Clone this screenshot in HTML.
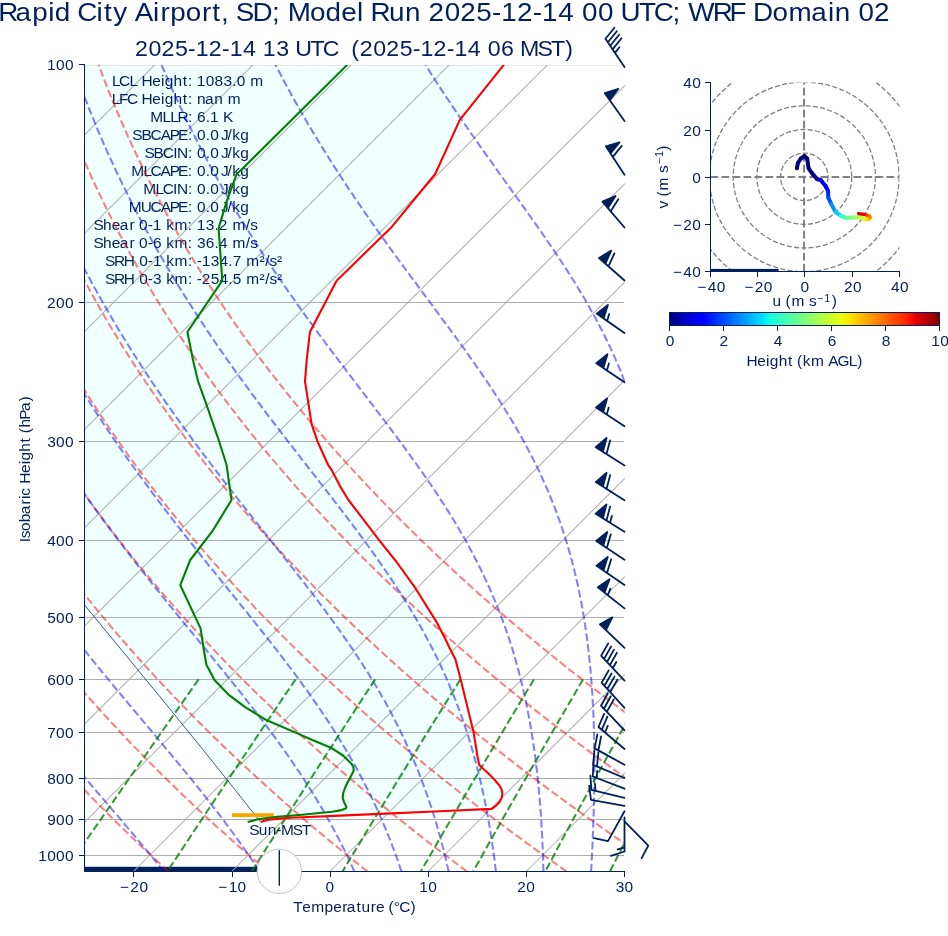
<!DOCTYPE html>
<html><head><meta charset="utf-8"><title>Skew-T Rapid City Airport</title>
<style>html,body{margin:0;padding:0;background:#fff}body{width:948px;height:936px;overflow:hidden}svg{display:block;will-change:transform}text{font-family:"Liberation Sans",sans-serif;fill:#00205b;white-space:pre}</style></head><body>
<svg width="948" height="936" viewBox="0 0 948 936">
<rect width="948" height="936" fill="#fff"/>
<defs><clipPath id="ax"><rect x="84.5" y="64.9" width="540.2" height="807"/></clipPath>
<clipPath id="hx"><rect x="710.5" y="82.5" width="189" height="189"/></clipPath>
<linearGradient id="jet" x1="0" x2="1" y1="0" y2="0">
<stop offset="0%" stop-color="rgb(0,0,128)"/>
<stop offset="11%" stop-color="rgb(0,0,255)"/>
<stop offset="12.5%" stop-color="rgb(0,0,255)"/>
<stop offset="34%" stop-color="rgb(0,219,255)"/>
<stop offset="35%" stop-color="rgb(2,232,244)"/>
<stop offset="37.5%" stop-color="rgb(22,255,225)"/>
<stop offset="50%" stop-color="rgb(125,255,122)"/>
<stop offset="64%" stop-color="rgb(238,255,9)"/>
<stop offset="65%" stop-color="rgb(246,245,0)"/>
<stop offset="66%" stop-color="rgb(255,234,0)"/>
<stop offset="89%" stop-color="rgb(255,22,0)"/>
<stop offset="91%" stop-color="rgb(232,0,0)"/>
<stop offset="100%" stop-color="rgb(128,0,0)"/>
</linearGradient></defs>
<g clip-path="url(#ax)">
<polygon points="260.7,822.1 264.5,820.8 269,819.8 280,818.6 291,817.7 340,815.6 379.8,813.9 440,811.3 491.7,808.9 496,805.6 499.2,802.4 501.6,798 502.4,793.8 501.6,789.5 499.2,785.3 494.5,779.8 489.6,774.6 484,769.5 479.3,765 477.6,757 473.5,731.9 460.7,679.5 455.4,659.2 449.6,648 445.8,640 436.8,622.4 415.4,588.2 396.2,561.5 379.1,540.1 348.1,499.5 340,486.1 332,470.7 328,464.7 317.4,441.2 311.6,424.1 305,381.4 306.7,360 309.9,332 336.6,280.7 391.7,226.9 435.2,174 459.8,119.9 504,64.6 54.4,62.4 60,575 84.5,604.9 160,696.8 211.3,760" fill="#f0ffff"/>
<rect x="84.4" y="866.8" width="194.9" height="6" fill="#00205b"/>
<g stroke="#adadad" stroke-width="1" fill="none" shape-rendering="crispEdges">
<path d="M84.4 302.5H624.3"/>
<path d="M84.4 441.5H624.3"/>
<path d="M84.4 540.5H624.3"/>
<path d="M84.4 617.5H624.3"/>
<path d="M84.4 679.5H624.3"/>
<path d="M84.4 732.5H624.3"/>
<path d="M84.4 778.5H624.3"/>
<path d="M84.4 819.5H624.3"/>
<path d="M84.4 855.5H624.3"/>
</g>
<path d="M84.4 65.4H624.3" stroke="#b0b0b0" stroke-opacity="0.3" stroke-width="1" fill="none"/>
<g stroke="#b0b0b0" stroke-width="1.05" fill="none">
<path d="M-1044.6 871.5L-237.5 64.4"/>
<path d="M-946.4 871.5L-139.3 64.4"/>
<path d="M-848.2 871.5L-41.2 64.4"/>
<path d="M-750.1 871.5L57 64.4"/>
<path d="M-651.9 871.5L155.2 64.4"/>
<path d="M-553.7 871.5L253.4 64.4"/>
<path d="M-455.5 871.5L351.5 64.4"/>
<path d="M-357.4 871.5L449.7 64.4"/>
<path d="M-259.2 871.5L547.9 64.4"/>
<path d="M-161 871.5L646 64.4"/>
<path d="M-62.9 871.5L744.2 64.4"/>
<path d="M35.3 871.5L842.4 64.4"/>
<path d="M133.5 871.5L940.6 64.4"/>
<path d="M231.7 871.5L1038.7 64.4"/>
<path d="M329.8 871.5L1136.9 64.4"/>
<path d="M428 871.5L1235.1 64.4"/>
<path d="M526.2 871.5L1333.2 64.4"/>
<path d="M624.3 871.5L1431.4 64.4"/>
</g>
<text transform="translate(112.2 85.7) scale(1.05 1)" x="-0.16 6.59 16.45 24.03 27.83 38.13 46.47 49.97 58.44 67.23 72.09" y="0" font-size="14.72">LCL Height:</text>
<text transform="translate(196.8 85.7) scale(1.05 1)" x="0.03 8.53 16.94 25.38 33.71 37.98 46.34 50.83" y="0" font-size="14.72">1083.0 m</text>
<text transform="translate(112 103.7) scale(1.05 1)" x="-0.16 6.63 14.2 24.27 28.07 38.37 46.71 50.21 58.68 67.47 72.33" y="0" font-size="14.72">LFC Height:</text>
<text transform="translate(196.8 103.7) scale(1.05 1)" x="0.13 7.83 16.61 24.93 29.42" y="0" font-size="14.72">nan m</text>
<text transform="translate(150.6 121.7) scale(1.05 1)" x="-0.42 11.26 18.63 25.63 35.53" y="0" font-size="14.72">MLLR:</text>
<text transform="translate(196.8 121.7) scale(1.05 1)" x="0.11 8.47 12.65 21.09 24.93" y="0" font-size="14.72">6.1 K</text>
<text transform="translate(133 139.7) scale(1.05 1)" x="-0.64 7.99 16.69 26.32 35.04 42.94 52.28" y="0" font-size="14.72">SBCAPE:</text>
<text transform="translate(196.8 139.7) scale(1.05 1)" x="0.11 8.47 12.73 21.09 22.95 29.32 33.82 41.29" y="0" font-size="14.72">0.0 J/kg</text>
<text transform="translate(145.2 157.7) scale(1.05 1)" x="-0.64 7.99 16.69 26.61 30.24 40.69" y="0" font-size="14.72">SBCIN:</text>
<text transform="translate(196.8 157.7) scale(1.05 1)" x="0.11 8.47 12.73 21.09 22.95 29.32 33.82 41.29" y="0" font-size="14.72">0.0 J/kg</text>
<text transform="translate(131.6 175.7) scale(1.05 1)" x="-0.42 11.26 18 27.63 36.35 44.25 53.59" y="0" font-size="14.72">MLCAPE:</text>
<text transform="translate(196.8 175.7) scale(1.05 1)" x="0.11 8.47 12.73 21.09 22.95 29.32 33.82 41.29" y="0" font-size="14.72">0.0 J/kg</text>
<text transform="translate(143.8 193.7) scale(1.05 1)" x="-0.42 11.26 18 27.92 31.55 42" y="0" font-size="14.72">MLCIN:</text>
<text transform="translate(196.8 193.7) scale(1.05 1)" x="0.11 8.47 12.73 21.09 22.95 29.32 33.82 41.29" y="0" font-size="14.72">0.0 J/kg</text>
<text transform="translate(129.2 211.7) scale(1.05 1)" x="-0.42 10.94 20.32 29.94 38.66 46.56 55.9" y="0" font-size="14.72">MUCAPE:</text>
<text transform="translate(196.8 211.7) scale(1.05 1)" x="0.11 8.47 12.73 21.09 22.95 29.32 33.82 41.29" y="0" font-size="14.72">0.0 J/kg</text>
<text transform="translate(94.2 229.7) scale(1.05 1)" x="-0.64 8.5 16.78 24.36 33.53 38.52 42.78 51.02 55.88 64.33 68.7 76.48 89.21" y="0" font-size="14.72">Shear 0-1 km:</text>
<text transform="translate(196.8 229.7) scale(1.05 1)" x="0.03 8.55 16.88 20.97 29.51 34 46.72 50.86" y="0" font-size="14.72">13.2 m/s</text>
<text transform="translate(94.2 247.7) scale(1.05 1)" x="-0.64 8.5 16.78 24.36 33.53 38.52 42.78 51.02 55.96 64.33 68.7 76.48 89.21" y="0" font-size="14.72">Shear 0-6 km:</text>
<text transform="translate(196.8 247.7) scale(1.05 1)" x="0.13 8.52 16.88 21.15 29.51 34 46.72 50.86" y="0" font-size="14.72">36.4 m/s</text>
<text transform="translate(105.7 265.7) scale(1.05 1)" x="-0.64 7.87 17.24 27.59 31.85 40.09 44.96 53.4 57.77 65.55 78.28" y="0" font-size="14.72">SRH 0-1 km:</text>
<text transform="translate(196.8 265.7) scale(1.05 1)" x="-0.06 4.8 13.32 21.72 30.07 34.31 42.7 47.19 59.81 65.22 69.35 76.46" y="0" font-size="14.72">-134.7 m²/s²</text>
<text transform="translate(105.7 283.7) scale(1.05 1)" x="-0.64 7.87 17.24 27.59 31.85 40.09 45.06 53.4 57.77 65.55 78.28" y="0" font-size="14.72">SRH 0-3 km:</text>
<text transform="translate(196.8 283.7) scale(1.05 1)" x="-0.06 4.71 13.25 21.72 30.07 34.29 42.7 47.19 59.81 65.22 69.35 76.46" y="0" font-size="14.72">-254.5 m²/s²</text>
<g stroke="#ff0000" stroke-opacity="0.5" stroke-width="2.05" stroke-dasharray="7.7 3.3" fill="none">
<path d="M168.4 871.5L161 864.7L153.8 858L146.6 851.3L139.5 844.6L132.4 837.8L125.5 831.1L118.6 824.4L111.8 817.7L105.1 810.9L98.4 804.2L91.8 797.5L85.3 790.8L78.9 784L72.6 777.3L66.3 770.6L60.1 763.9L53.9 757.1L47.9 750.4L41.9 743.7L35.9 737L30.1 730.2L24.3 723.5L18.6 716.8L12.9 710.1L7.4 703.3L1.9 696.6L-3.6 689.9L-8.9 683.2L-14.2 676.4L-19.5 669.7L-24.7 663L-29.8 656.3L-34.8 649.5L-39.8 642.8L-44.7 636.1L-49.5 629.3L-54.3 622.6L-59 615.9L-63.6 609.2L-68.2 602.4L-72.7 595.7L-77.2 589L-81.6 582.3L-85.9 575.5L-90.2 568.8L-94.4 562.1L-98.6 555.4L-102.7 548.6L-106.7 541.9L-110.6 535.2L-114.6 528.5L-118.4 521.7L-122.2 515L-125.9 508.3L-129.6 501.6L-133.2 494.8L-136.8 488.1L-140.3 481.4L-143.7 474.7L-147.1 467.9L-150.4 461.2L-153.7 454.5L-156.9 447.8L-160.1 441L-163.2 434.3L-166.2 427.6L-169.2 420.9L-172.2 414.1L-175.1 407.4L-177.9 400.7L-180.7 394L-183.4 387.2L-186.1 380.5L-188.7 373.8L-191.3 367.1L-193.8 360.3L-196.3 353.6L-198.7 346.9L-201.1 340.1L-203.4 333.4L-205.6 326.7L-207.9 320L-210 313.2L-212.1 306.5L-214.2 299.8L-216.2 293.1L-218.2 286.3L-220.1 279.6L-222 272.9L-223.8 266.2L-225.6 259.4L-227.3 252.7L-229 246L-230.6 239.3L-232.2 232.5L-233.7 225.8L-235.2 219.1L-236.7 212.4L-238.1 205.6L-239.4 198.9L-240.8 192.2L-242 185.5L-243.2 178.7L-244.4 172L-245.6 165.3L-246.6 158.6L-247.7 151.8L-248.7 145.1L-249.7 138.4L-250.6 131.7L-251.4 124.9L-252.3 118.2L-253.1 111.5L-253.8 104.8L-254.5 98L-255.2 91.3L-255.8 84.6L-256.4 77.9L-256.9 71.1L-257.4 64.4"/>
<path d="M267.9 871.5L260 864.7L252.2 858L244.5 851.3L236.8 844.6L229.2 837.8L221.7 831.1L214.3 824.4L207 817.7L199.7 810.9L192.5 804.2L185.4 797.5L178.4 790.8L171.5 784L164.6 777.3L157.8 770.6L151.1 763.9L144.4 757.1L137.9 750.4L131.4 743.7L124.9 737L118.6 730.2L112.3 723.5L106.1 716.8L100 710.1L93.9 703.3L87.9 696.6L82 689.9L76.2 683.2L70.4 676.4L64.7 669.7L59 663L53.5 656.3L48 649.5L42.5 642.8L37.2 636.1L31.9 629.3L26.6 622.6L21.5 615.9L16.4 609.2L11.4 602.4L6.4 595.7L1.5 589L-3.3 582.3L-8.1 575.5L-12.8 568.8L-17.5 562.1L-22 555.4L-26.6 548.6L-31 541.9L-35.4 535.2L-39.7 528.5L-44 521.7L-48.2 515L-52.4 508.3L-56.4 501.6L-60.5 494.8L-64.4 488.1L-68.3 481.4L-72.2 474.7L-76 467.9L-79.7 461.2L-83.4 454.5L-87 447.8L-90.5 441L-94 434.3L-97.4 427.6L-100.8 420.9L-104.2 414.1L-107.4 407.4L-110.6 400.7L-113.8 394L-116.9 387.2L-119.9 380.5L-122.9 373.8L-125.9 367.1L-128.8 360.3L-131.6 353.6L-134.4 346.9L-137.1 340.1L-139.8 333.4L-142.4 326.7L-145 320L-147.5 313.2L-149.9 306.5L-152.3 299.8L-154.7 293.1L-157 286.3L-159.3 279.6L-161.5 272.9L-163.6 266.2L-165.8 259.4L-167.8 252.7L-169.8 246L-171.8 239.3L-173.7 232.5L-175.6 225.8L-177.4 219.1L-179.2 212.4L-180.9 205.6L-182.6 198.9L-184.2 192.2L-185.8 185.5L-187.3 178.7L-188.8 172L-190.3 165.3L-191.7 158.6L-193 151.8L-194.3 145.1L-195.6 138.4L-196.8 131.7L-198 124.9L-199.1 118.2L-200.2 111.5L-201.2 104.8L-202.2 98L-203.2 91.3L-204.1 84.6L-205 77.9L-205.8 71.1L-206.6 64.4"/>
<path d="M367.5 871.5L359 864.7L350.6 858L342.4 851.3L334.2 844.6L326 837.8L318 831.1L310 824.4L302.2 817.7L294.4 810.9L286.7 804.2L279 797.5L271.5 790.8L264 784L256.6 777.3L249.3 770.6L242.1 763.9L234.9 757.1L227.9 750.4L220.9 743.7L213.9 737L207.1 730.2L200.3 723.5L193.6 716.8L187 710.1L180.5 703.3L174 696.6L167.6 689.9L161.3 683.2L155 676.4L148.8 669.7L142.7 663L136.7 656.3L130.7 649.5L124.8 642.8L119 636.1L113.2 629.3L107.6 622.6L101.9 615.9L96.4 609.2L90.9 602.4L85.5 595.7L80.2 589L74.9 582.3L69.7 575.5L64.6 568.8L59.5 562.1L54.5 555.4L49.5 548.6L44.6 541.9L39.8 535.2L35.1 528.5L30.4 521.7L25.8 515L21.2 508.3L16.7 501.6L12.3 494.8L7.9 488.1L3.6 481.4L-0.6 474.7L-4.8 467.9L-8.9 461.2L-13 454.5L-17 447.8L-20.9 441L-24.8 434.3L-28.7 427.6L-32.4 420.9L-36.1 414.1L-39.8 407.4L-43.4 400.7L-46.9 394L-50.4 387.2L-53.8 380.5L-57.2 373.8L-60.5 367.1L-63.7 360.3L-66.9 353.6L-70 346.9L-73.1 340.1L-76.2 333.4L-79.1 326.7L-82.1 320L-84.9 313.2L-87.7 306.5L-90.5 299.8L-93.2 293.1L-95.9 286.3L-98.5 279.6L-101 272.9L-103.5 266.2L-105.9 259.4L-108.3 252.7L-110.7 246L-113 239.3L-115.2 232.5L-117.4 225.8L-119.6 219.1L-121.7 212.4L-123.7 205.6L-125.7 198.9L-127.6 192.2L-129.5 185.5L-131.4 178.7L-133.2 172L-135 165.3L-136.7 158.6L-138.3 151.8L-139.9 145.1L-141.5 138.4L-143 131.7L-144.5 124.9L-145.9 118.2L-147.3 111.5L-148.6 104.8L-149.9 98L-151.2 91.3L-152.4 84.6L-153.6 77.9L-154.7 71.1L-155.7 64.4"/>
<path d="M467 871.5L458 864.7L449.1 858L440.2 851.3L431.5 844.6L422.8 837.8L414.3 831.1L405.8 824.4L397.4 817.7L389 810.9L380.8 804.2L372.7 797.5L364.6 790.8L356.6 784L348.7 777.3L340.9 770.6L333.1 763.9L325.5 757.1L317.9 750.4L310.4 743.7L302.9 737L295.6 730.2L288.3 723.5L281.1 716.8L274 710.1L267 703.3L260.1 696.6L253.2 689.9L246.4 683.2L239.6 676.4L233 669.7L226.4 663L219.9 656.3L213.5 649.5L207.1 642.8L200.8 636.1L194.6 629.3L188.5 622.6L182.4 615.9L176.4 609.2L170.5 602.4L164.6 595.7L158.9 589L153.2 582.3L147.5 575.5L141.9 568.8L136.4 562.1L131 555.4L125.6 548.6L120.3 541.9L115.1 535.2L109.9 528.5L104.8 521.7L99.8 515L94.8 508.3L89.9 501.6L85.1 494.8L80.3 488.1L75.6 481.4L70.9 474.7L66.3 467.9L61.8 461.2L57.4 454.5L53 447.8L48.6 441L44.4 434.3L40.1 427.6L36 420.9L31.9 414.1L27.9 407.4L23.9 400.7L20 394L16.2 387.2L12.4 380.5L8.6 373.8L5 367.1L1.3 360.3L-2.2 353.6L-5.7 346.9L-9.2 340.1L-12.5 333.4L-15.9 326.7L-19.1 320L-22.4 313.2L-25.5 306.5L-28.6 299.8L-31.7 293.1L-34.7 286.3L-37.6 279.6L-40.5 272.9L-43.4 266.2L-46.1 259.4L-48.9 252.7L-51.5 246L-54.2 239.3L-56.7 232.5L-59.3 225.8L-61.7 219.1L-64.1 212.4L-66.5 205.6L-68.8 198.9L-71.1 192.2L-73.3 185.5L-75.5 178.7L-77.6 172L-79.6 165.3L-81.7 158.6L-83.6 151.8L-85.6 145.1L-87.4 138.4L-89.2 131.7L-91 124.9L-92.7 118.2L-94.4 111.5L-96.1 104.8L-97.6 98L-99.2 91.3L-100.7 84.6L-102.1 77.9L-103.5 71.1L-104.9 64.4"/>
<path d="M566.6 871.5L557 864.7L547.5 858L538.1 851.3L528.8 844.6L519.6 837.8L510.5 831.1L501.5 824.4L492.6 817.7L483.7 810.9L474.9 804.2L466.3 797.5L457.7 790.8L449.2 784L440.7 777.3L432.4 770.6L424.1 763.9L416 757.1L407.9 750.4L399.9 743.7L392 737L384.1 730.2L376.3 723.5L368.7 716.8L361.1 710.1L353.6 703.3L346.1 696.6L338.8 689.9L331.5 683.2L324.3 676.4L317.1 669.7L310.1 663L303.1 656.3L296.2 649.5L289.4 642.8L282.7 636.1L276 629.3L269.4 622.6L262.9 615.9L256.4 609.2L250.1 602.4L243.8 595.7L237.6 589L231.4 582.3L225.3 575.5L219.3 568.8L213.4 562.1L207.5 555.4L201.7 548.6L196 541.9L190.3 535.2L184.7 528.5L179.2 521.7L173.8 515L168.4 508.3L163.1 501.6L157.8 494.8L152.6 488.1L147.5 481.4L142.5 474.7L137.5 467.9L132.6 461.2L127.7 454.5L122.9 447.8L118.2 441L113.5 434.3L108.9 427.6L104.4 420.9L99.9 414.1L95.5 407.4L91.2 400.7L86.9 394L82.7 387.2L78.5 380.5L74.4 373.8L70.4 367.1L66.4 360.3L62.5 353.6L58.6 346.9L54.8 340.1L51.1 333.4L47.4 326.7L43.8 320L40.2 313.2L36.7 306.5L33.2 299.8L29.8 293.1L26.5 286.3L23.2 279.6L20 272.9L16.8 266.2L13.7 259.4L10.6 252.7L7.6 246L4.6 239.3L1.7 232.5L-1.1 225.8L-3.9 219.1L-6.6 212.4L-9.3 205.6L-12 198.9L-14.5 192.2L-17.1 185.5L-19.5 178.7L-22 172L-24.3 165.3L-26.7 158.6L-28.9 151.8L-31.2 145.1L-33.3 138.4L-35.5 131.7L-37.5 124.9L-39.6 118.2L-41.5 111.5L-43.5 104.8L-45.4 98L-47.2 91.3L-49 84.6L-50.7 77.9L-52.4 71.1L-54 64.4"/>
<path d="M666.1 871.5L656 864.7L646 858L636 851.3L626.2 844.6L616.4 837.8L606.8 831.1L597.2 824.4L587.7 817.7L578.4 810.9L569.1 804.2L559.9 797.5L550.7 790.8L541.7 784L532.8 777.3L523.9 770.6L515.2 763.9L506.5 757.1L497.9 750.4L489.4 743.7L481 737L472.6 730.2L464.4 723.5L456.2 716.8L448.1 710.1L440.1 703.3L432.2 696.6L424.3 689.9L416.6 683.2L408.9 676.4L401.3 669.7L393.8 663L386.3 656.3L379 649.5L371.7 642.8L364.5 636.1L357.4 629.3L350.3 622.6L343.4 615.9L336.5 609.2L329.7 602.4L322.9 595.7L316.2 589L309.7 582.3L303.1 575.5L296.7 568.8L290.3 562.1L284 555.4L277.8 548.6L271.6 541.9L265.6 535.2L259.6 528.5L253.6 521.7L247.8 515L242 508.3L236.2 501.6L230.6 494.8L225 488.1L219.5 481.4L214 474.7L208.6 467.9L203.3 461.2L198.1 454.5L192.9 447.8L187.8 441L182.7 434.3L177.7 427.6L172.8 420.9L168 414.1L163.2 407.4L158.5 400.7L153.8 394L149.2 387.2L144.7 380.5L140.2 373.8L135.8 367.1L131.4 360.3L127.2 353.6L122.9 346.9L118.8 340.1L114.7 333.4L110.6 326.7L106.7 320L102.7 313.2L98.9 306.5L95.1 299.8L91.3 293.1L87.6 286.3L84 279.6L80.4 272.9L76.9 266.2L73.5 259.4L70.1 252.7L66.7 246L63.5 239.3L60.2 232.5L57.1 225.8L53.9 219.1L50.9 212.4L47.9 205.6L44.9 198.9L42 192.2L39.2 185.5L36.4 178.7L33.6 172L31 165.3L28.3 158.6L25.7 151.8L23.2 145.1L20.7 138.4L18.3 131.7L15.9 124.9L13.6 118.2L11.3 111.5L9.1 104.8L6.9 98L4.8 91.3L2.7 84.6L0.7 77.9L-1.3 71.1L-3.2 64.4"/>
<path d="M765.7 871.5L755 864.7L744.4 858L733.9 851.3L723.5 844.6L713.2 837.8L703 831.1L692.9 824.4L682.9 817.7L673 810.9L663.2 804.2L653.5 797.5L643.8 790.8L634.3 784L624.8 777.3L615.5 770.6L606.2 763.9L597 757.1L587.9 750.4L578.9 743.7L570 737L561.1 730.2L552.4 723.5L543.7 716.8L535.1 710.1L526.6 703.3L518.2 696.6L509.9 689.9L501.7 683.2L493.5 676.4L485.5 669.7L477.5 663L469.6 656.3L461.7 649.5L454 642.8L446.3 636.1L438.8 629.3L431.3 622.6L423.8 615.9L416.5 609.2L409.2 602.4L402 595.7L394.9 589L387.9 582.3L380.9 575.5L374.1 568.8L367.3 562.1L360.5 555.4L353.9 548.6L347.3 541.9L340.8 535.2L334.4 528.5L328 521.7L321.7 515L315.5 508.3L309.4 501.6L303.3 494.8L297.3 488.1L291.4 481.4L285.6 474.7L279.8 467.9L274.1 461.2L268.4 454.5L262.8 447.8L257.3 441L251.9 434.3L246.5 427.6L241.2 420.9L236 414.1L230.8 407.4L225.7 400.7L220.7 394L215.7 387.2L210.8 380.5L206 373.8L201.2 367.1L196.5 360.3L191.8 353.6L187.3 346.9L182.7 340.1L178.3 333.4L173.9 326.7L169.6 320L165.3 313.2L161.1 306.5L156.9 299.8L152.8 293.1L148.8 286.3L144.8 279.6L140.9 272.9L137.1 266.2L133.3 259.4L129.6 252.7L125.9 246L122.3 239.3L118.7 232.5L115.2 225.8L111.8 219.1L108.4 212.4L105.1 205.6L101.8 198.9L98.6 192.2L95.4 185.5L92.3 178.7L89.3 172L86.3 165.3L83.3 158.6L80.4 151.8L77.6 145.1L74.8 138.4L72.1 131.7L69.4 124.9L66.8 118.2L64.2 111.5L61.7 104.8L59.2 98L56.8 91.3L54.4 84.6L52.1 77.9L49.9 71.1L47.7 64.4"/>
<path d="M865.2 871.5L854 864.7L842.8 858L831.8 851.3L820.9 844.6L810 837.8L799.3 831.1L788.7 824.4L778.1 817.7L767.7 810.9L757.3 804.2L747.1 797.5L736.9 790.8L726.8 784L716.9 777.3L707 770.6L697.2 763.9L687.5 757.1L677.9 750.4L668.4 743.7L659 737L649.6 730.2L640.4 723.5L631.2 716.8L622.2 710.1L613.2 703.3L604.3 696.6L595.5 689.9L586.8 683.2L578.2 676.4L569.6 669.7L561.2 663L552.8 656.3L544.5 649.5L536.3 642.8L528.2 636.1L520.1 629.3L512.2 622.6L504.3 615.9L496.5 609.2L488.8 602.4L481.2 595.7L473.6 589L466.2 582.3L458.8 575.5L451.4 568.8L444.2 562.1L437.1 555.4L430 548.6L423 541.9L416.1 535.2L409.2 528.5L402.4 521.7L395.7 515L389.1 508.3L382.6 501.6L376.1 494.8L369.7 488.1L363.4 481.4L357.1 474.7L350.9 467.9L344.8 461.2L338.8 454.5L332.8 447.8L326.9 441L321.1 434.3L315.3 427.6L309.6 420.9L304 414.1L298.5 407.4L293 400.7L287.6 394L282.2 387.2L277 380.5L271.8 373.8L266.6 367.1L261.5 360.3L256.5 353.6L251.6 346.9L246.7 340.1L241.9 333.4L237.1 326.7L232.5 320L227.8 313.2L223.3 306.5L218.8 299.8L214.3 293.1L210 286.3L205.7 279.6L201.4 272.9L197.2 266.2L193.1 259.4L189 252.7L185 246L181.1 239.3L177.2 232.5L173.4 225.8L169.6 219.1L165.9 212.4L162.3 205.6L158.7 198.9L155.1 192.2L151.7 185.5L148.2 178.7L144.9 172L141.6 165.3L138.3 158.6L135.1 151.8L132 145.1L128.9 138.4L125.9 131.7L122.9 124.9L120 118.2L117.1 111.5L114.3 104.8L111.5 98L108.8 91.3L106.2 84.6L103.5 77.9L101 71.1L98.5 64.4"/>
</g>
<g stroke="#0000ff" stroke-opacity="0.5" stroke-width="2.05" stroke-dasharray="7.7 3.3" fill="none">
<path d="M163.9 871.5L163.2 870.6L162.5 869.8L161.8 869L161.2 868.1L160.5 867.3L159.8 866.4L159.1 865.6L158.5 864.8L157.8 863.9L157.1 863.1L156.4 862.3L155.7 861.4L155 860.6L154.4 859.7L153.7 858.9L153 858.1L152.3 857.2L151.6 856.4L150.9 855.6L150.2 854.7L148.6 852.7L147 850.8L145.3 848.8L143.7 846.8L142 844.8L140.4 842.9L138.7 840.9L137.1 838.9L135.4 836.9L133.8 835L132.1 833L130.4 831L128.8 829L127.1 827.1L125.4 825.1L123.7 823.1L122.1 821.1L120.4 819.2L118.7 817.2L117 815.2L115.3 813.2L113.6 811.3L112 809.3L110.3 807.3L108.6 805.3L106.9 803.4L105.2 801.4L103.5 799.4L101.8 797.4L100.1 795.4L98.4 793.5L96.7 791.5L95 789.5L93.3 787.5L91.7 785.6L90 783.6L88.3 781.6L86.6 779.6L84.9 777.7L83.2 775.7L81.5 773.7L79.8 771.7L78.1 769.8L76.4 767.8L74.8 765.8L73.1 763.8L71.4 761.9L69.7 759.9L68 757.9L66.4 755.9L64.7 754L63 752L61.4 750L59.7 748L58 746.1L56.4 744.1L54.7 742.1L53 740.1L51.4 738.2L49.7 736.2L48.1 734.2L46.5 732.2L44.8 730.2L43.2 728.3L41.5 726.3L39.9 724.3L38.3 722.3L36.6 720.4L35 718.4L33.4 716.4L31.8 714.4L30.2 712.5L28.6 710.5L27 708.5L25.4 706.5L23.8 704.6L22.2 702.6L20.6 700.6L19 698.6L17.4 696.7L15.8 694.7L14.3 692.7L12.7 690.7L11.1 688.8L9.6 686.8L8 684.8L6.5 682.8L4.9 680.9L3.4 678.9L1.8 676.9L0.3 674.9L-1.2 672.9L-2.8 671L-4.3 669L-5.8 667L-7.3 665L-8.8 663.1L-10.3 661.1L-11.8 659.1L-13.3 657.1L-14.8 655.2L-16.3 653.2L-17.8 651.2L-19.2 649.2L-20.7 647.3L-22.2 645.3L-23.6 643.3L-25.1 641.3L-26.5 639.4L-28 637.4L-29.4 635.4L-30.9 633.4L-32.3 631.5L-33.7 629.5L-35.1 627.5L-36.5 625.5L-38 623.6L-39.4 621.6L-40.8 619.6L-42.2 617.6L-43.5 615.7L-44.9 613.7L-46.3 611.7L-47.7 609.7L-49.1 607.7L-50.4 605.8L-51.8 603.8L-53.1 601.8L-54.5 599.8L-55.8 597.9L-57.2 595.9L-58.5 593.9L-59.8 591.9L-61.2 590L-62.5 588L-63.8 586L-65.1 584L-66.4 582.1L-67.7 580.1L-69 578.1L-70.3 576.1L-71.6 574.2L-72.8 572.2L-74.1 570.2L-75.4 568.2L-76.6 566.3L-77.9 564.3L-79.1 562.3L-80.4 560.3L-81.6 558.4L-82.9 556.4L-84.1 554.4L-85.3 552.4L-86.5 550.4L-87.8 548.5L-89 546.5L-90.2 544.5L-91.4 542.5L-92.6 540.6L-93.8 538.6L-94.9 536.6L-96.1 534.6L-97.3 532.7L-98.5 530.7L-99.6 528.7L-100.8 526.7L-102 524.8L-103.1 522.8L-104.2 520.8L-105.4 518.8L-106.5 516.9L-107.7 514.9L-108.8 512.9L-109.9 510.9L-111 509L-112.1 507L-113.2 505L-114.3 503L-115.4 501.1L-116.5 499.1L-117.6 497.1L-118.7 495.1L-119.7 493.2L-120.8 491.2L-121.9 489.2L-122.9 487.2L-124 485.2L-125 483.3L-126.1 481.3L-127.1 479.3L-128.2 477.3L-129.2 475.4L-130.2 473.4L-131.2 471.4L-132.3 469.4L-133.3 467.5L-134.3 465.5L-135.3 463.5L-136.3 461.5L-137.3 459.6L-138.2 457.6L-139.2 455.6L-140.2 453.6L-141.2 451.7L-142.1 449.7L-143.1 447.7L-144.1 445.7L-145 443.8L-146 441.8L-146.9 439.8L-147.8 437.8L-148.8 435.9L-149.7 433.9L-150.6 431.9L-151.5 429.9L-152.5 427.9L-153.4 426L-154.3 424L-155.2 422L-156.1 420L-157 418.1L-157.8 416.1L-158.7 414.1L-159.6 412.1L-160.5 410.2L-161.3 408.2L-162.2 406.2L-163.1 404.2L-163.9 402.3L-164.8 400.3L-165.6 398.3L-166.4 396.3L-167.3 394.4L-168.1 392.4L-168.9 390.4L-169.7 388.4L-170.6 386.5L-171.4 384.5L-172.2 382.5L-173 380.5L-173.8 378.6L-174.6 376.6L-175.4 374.6L-176.1 372.6L-176.9 370.7L-177.7 368.7L-178.5 366.7L-179.2 364.7L-180 362.7L-180.8 360.8L-181.5 358.8L-182.3 356.8L-183 354.8L-183.7 352.9L-184.5 350.9L-185.2 348.9L-185.9 346.9L-186.7 345L-187.4 343L-188.1 341L-188.8 339L-189.5 337.1L-190.2 335.1L-190.9 333.1L-191.6 331.1L-192.3 329.2L-192.9 327.2L-193.6 325.2L-194.3 323.2L-195 321.3L-195.6 319.3L-196.3 317.3L-196.9 315.3L-197.6 313.4L-198.2 311.4L-198.9 309.4L-199.5 307.4L-200.2 305.4L-200.8 303.5L-201.4 301.5L-202 299.5L-202.6 297.5L-203.3 295.6L-203.9 293.6L-204.5 291.6L-205.1 289.6L-205.7 287.7L-206.3 285.7L-206.8 283.7L-207.4 281.7L-208 279.8L-208.6 277.8L-209.2 275.8L-209.7 273.8L-210.3 271.9L-210.8 269.9L-211.4 267.9L-211.9 265.9L-212.5 264L-213 262L-213.6 260L-214.1 258L-214.6 256.1L-215.2 254.1L-215.7 252.1L-216.2 250.1L-216.7 248.2L-217.2 246.2L-217.7 244.2L-218.2 242.2L-218.7 240.2L-219.2 238.3L-219.7 236.3L-220.2 234.3L-220.7 232.3L-221.1 230.4L-221.6 228.4L-222.1 226.4L-222.5 224.4L-223 222.5L-223.5 220.5L-223.9 218.5L-224.4 216.5L-224.8 214.6L-225.2 212.6L-225.7 210.6L-226.1 208.6L-226.5 206.7L-227 204.7L-227.4 202.7L-227.8 200.7L-228.2 198.8L-228.6 196.8L-229 194.8L-229.4 192.8L-229.8 190.9L-230.2 188.9L-230.6 186.9L-231 184.9L-231.4 182.9L-231.7 181L-232.1 179L-232.5 177L-232.9 175L-233.2 173.1L-233.6 171.1L-233.9 169.1L-234.3 167.1L-234.6 165.2L-235 163.2L-235.3 161.2L-235.6 159.2L-236 157.3L-236.3 155.3L-236.6 153.3L-236.9 151.3L-237.3 149.4L-237.6 147.4L-237.9 145.4L-238.2 143.4L-238.5 141.5L-238.8 139.5L-239.1 137.5L-239.4 135.5L-239.6 133.6L-239.9 131.6L-240.2 129.6L-240.5 127.6L-240.8 125.7L-241 123.7L-241.3 121.7L-241.5 119.7L-241.8 117.7L-242.1 115.8L-242.3 113.8L-242.6 111.8L-242.8 109.8L-243 107.9L-243.3 105.9L-243.5 103.9L-243.7 101.9L-243.9 100L-244.2 98L-244.4 96L-244.6 94L-244.8 92.1L-245 90.1L-245.2 88.1L-245.4 86.1L-245.6 84.2L-245.8 82.2L-246 80.2L-246.2 78.2L-246.4 76.3L-246.5 74.3L-246.7 72.3L-246.9 70.3L-247 68.4L-247.2 66.4L-247.4 64.4"/>
<path d="M259.7 871.5L259.1 870.6L258.6 869.8L258 869L257.4 868.1L256.9 867.3L256.3 866.4L255.8 865.6L255.2 864.8L254.7 863.9L254.1 863.1L253.5 862.3L253 861.4L252.4 860.6L251.8 859.7L251.3 858.9L250.7 858.1L250.1 857.2L249.6 856.4L249 855.6L248.4 854.7L247 852.7L245.7 850.8L244.3 848.8L242.9 846.8L241.5 844.8L240.1 842.9L238.7 840.9L237.3 838.9L235.8 836.9L234.4 835L233 833L231.5 831L230.1 829L228.6 827.1L227.1 825.1L225.6 823.1L224.2 821.1L222.7 819.2L221.2 817.2L219.7 815.2L218.2 813.2L216.6 811.3L215.1 809.3L213.6 807.3L212.1 805.3L210.5 803.4L209 801.4L207.4 799.4L205.9 797.4L204.3 795.4L202.7 793.5L201.2 791.5L199.6 789.5L198 787.5L196.4 785.6L194.8 783.6L193.3 781.6L191.7 779.6L190.1 777.7L188.5 775.7L186.8 773.7L185.2 771.7L183.6 769.8L182 767.8L180.4 765.8L178.7 763.8L177.1 761.9L175.5 759.9L173.9 757.9L172.2 755.9L170.6 754L168.9 752L167.3 750L165.6 748L164 746.1L162.4 744.1L160.7 742.1L159 740.1L157.4 738.2L155.7 736.2L154.1 734.2L152.4 732.2L150.8 730.2L149.1 728.3L147.5 726.3L145.8 724.3L144.1 722.3L142.5 720.4L140.8 718.4L139.2 716.4L137.5 714.4L135.9 712.5L134.2 710.5L132.5 708.5L130.9 706.5L129.2 704.6L127.6 702.6L125.9 700.6L124.3 698.6L122.6 696.7L121 694.7L119.3 692.7L117.7 690.7L116 688.8L114.4 686.8L112.8 684.8L111.1 682.8L109.5 680.9L107.9 678.9L106.2 676.9L104.6 674.9L103 672.9L101.3 671L99.7 669L98.1 667L96.5 665L94.9 663.1L93.3 661.1L91.7 659.1L90.1 657.1L88.5 655.2L86.9 653.2L85.3 651.2L83.7 649.2L82.1 647.3L80.5 645.3L78.9 643.3L77.3 641.3L75.8 639.4L74.2 637.4L72.6 635.4L71.1 633.4L69.5 631.5L68 629.5L66.4 627.5L64.9 625.5L63.3 623.6L61.8 621.6L60.3 619.6L58.7 617.6L57.2 615.7L55.7 613.7L54.2 611.7L52.7 609.7L51.1 607.7L49.6 605.8L48.1 603.8L46.6 601.8L45.2 599.8L43.7 597.9L42.2 595.9L40.7 593.9L39.2 591.9L37.8 590L36.3 588L34.9 586L33.4 584L32 582.1L30.5 580.1L29.1 578.1L27.6 576.1L26.2 574.2L24.8 572.2L23.4 570.2L22 568.2L20.5 566.3L19.1 564.3L17.7 562.3L16.4 560.3L15 558.4L13.6 556.4L12.2 554.4L10.8 552.4L9.5 550.4L8.1 548.5L6.7 546.5L5.4 544.5L4 542.5L2.7 540.6L1.3 538.6L0 536.6L-1.3 534.6L-2.6 532.7L-4 530.7L-5.3 528.7L-6.6 526.7L-7.9 524.8L-9.2 522.8L-10.5 520.8L-11.8 518.8L-13.1 516.9L-14.3 514.9L-15.6 512.9L-16.9 510.9L-18.1 509L-19.4 507L-20.6 505L-21.9 503L-23.1 501.1L-24.4 499.1L-25.6 497.1L-26.8 495.1L-28.1 493.2L-29.3 491.2L-30.5 489.2L-31.7 487.2L-32.9 485.2L-34.1 483.3L-35.3 481.3L-36.5 479.3L-37.6 477.3L-38.8 475.4L-40 473.4L-41.2 471.4L-42.3 469.4L-43.5 467.5L-44.6 465.5L-45.8 463.5L-46.9 461.5L-48.1 459.6L-49.2 457.6L-50.3 455.6L-51.4 453.6L-52.5 451.7L-53.7 449.7L-54.8 447.7L-55.9 445.7L-57 443.8L-58.1 441.8L-59.1 439.8L-60.2 437.8L-61.3 435.9L-62.4 433.9L-63.4 431.9L-64.5 429.9L-65.6 427.9L-66.6 426L-67.6 424L-68.7 422L-69.7 420L-70.8 418.1L-71.8 416.1L-72.8 414.1L-73.8 412.1L-74.8 410.2L-75.8 408.2L-76.8 406.2L-77.8 404.2L-78.8 402.3L-79.8 400.3L-80.8 398.3L-81.8 396.3L-82.8 394.4L-83.7 392.4L-84.7 390.4L-85.6 388.4L-86.6 386.5L-87.6 384.5L-88.5 382.5L-89.4 380.5L-90.4 378.6L-91.3 376.6L-92.2 374.6L-93.1 372.6L-94.1 370.7L-95 368.7L-95.9 366.7L-96.8 364.7L-97.7 362.7L-98.6 360.8L-99.5 358.8L-100.3 356.8L-101.2 354.8L-102.1 352.9L-103 350.9L-103.8 348.9L-104.7 346.9L-105.5 345L-106.4 343L-107.2 341L-108.1 339L-108.9 337.1L-109.7 335.1L-110.6 333.1L-111.4 331.1L-112.2 329.2L-113 327.2L-113.8 325.2L-114.6 323.2L-115.4 321.3L-116.2 319.3L-117 317.3L-117.8 315.3L-118.6 313.4L-119.4 311.4L-120.1 309.4L-120.9 307.4L-121.7 305.4L-122.4 303.5L-123.2 301.5L-123.9 299.5L-124.7 297.5L-125.4 295.6L-126.2 293.6L-126.9 291.6L-127.6 289.6L-128.3 287.7L-129.1 285.7L-129.8 283.7L-130.5 281.7L-131.2 279.8L-131.9 277.8L-132.6 275.8L-133.3 273.8L-134 271.9L-134.6 269.9L-135.3 267.9L-136 265.9L-136.7 264L-137.3 262L-138 260L-138.7 258L-139.3 256.1L-140 254.1L-140.6 252.1L-141.2 250.1L-141.9 248.2L-142.5 246.2L-143.1 244.2L-143.8 242.2L-144.4 240.2L-145 238.3L-145.6 236.3L-146.2 234.3L-146.8 232.3L-147.4 230.4L-148 228.4L-148.6 226.4L-149.2 224.4L-149.7 222.5L-150.3 220.5L-150.9 218.5L-151.5 216.5L-152 214.6L-152.6 212.6L-153.1 210.6L-153.7 208.6L-154.2 206.7L-154.8 204.7L-155.3 202.7L-155.9 200.7L-156.4 198.8L-156.9 196.8L-157.4 194.8L-158 192.8L-158.5 190.9L-159 188.9L-159.5 186.9L-160 184.9L-160.5 182.9L-161 181L-161.5 179L-162 177L-162.4 175L-162.9 173.1L-163.4 171.1L-163.9 169.1L-164.3 167.1L-164.8 165.2L-165.2 163.2L-165.7 161.2L-166.1 159.2L-166.6 157.3L-167 155.3L-167.5 153.3L-167.9 151.3L-168.3 149.4L-168.8 147.4L-169.2 145.4L-169.6 143.4L-170 141.5L-170.4 139.5L-170.8 137.5L-171.2 135.5L-171.6 133.6L-172 131.6L-172.4 129.6L-172.8 127.6L-173.2 125.7L-173.6 123.7L-173.9 121.7L-174.3 119.7L-174.7 117.7L-175 115.8L-175.4 113.8L-175.7 111.8L-176.1 109.8L-176.4 107.9L-176.8 105.9L-177.1 103.9L-177.5 101.9L-177.8 100L-178.1 98L-178.5 96L-178.8 94L-179.1 92.1L-179.4 90.1L-179.7 88.1L-180 86.1L-180.3 84.2L-180.6 82.2L-180.9 80.2L-181.2 78.2L-181.5 76.3L-181.8 74.3L-182.1 72.3L-182.3 70.3L-182.6 68.4L-182.9 66.4L-183.1 64.4"/>
<path d="M354.3 871.5L353.9 870.6L353.6 869.8L353.2 869L352.8 868.1L352.4 867.3L352.1 866.4L351.7 865.6L351.3 864.8L350.9 863.9L350.5 863.1L350.1 862.3L349.7 861.4L349.4 860.6L349 859.7L348.6 858.9L348.2 858.1L347.8 857.2L347.4 856.4L347 855.6L346.6 854.7L345.6 852.7L344.7 850.8L343.7 848.8L342.7 846.8L341.7 844.8L340.7 842.9L339.7 840.9L338.7 838.9L337.7 836.9L336.6 835L335.6 833L334.6 831L333.5 829L332.4 827.1L331.4 825.1L330.3 823.1L329.2 821.1L328.1 819.2L327 817.2L325.8 815.2L324.7 813.2L323.6 811.3L322.4 809.3L321.3 807.3L320.1 805.3L318.9 803.4L317.7 801.4L316.5 799.4L315.3 797.4L314.1 795.4L312.9 793.5L311.7 791.5L310.5 789.5L309.2 787.5L308 785.6L306.7 783.6L305.4 781.6L304.2 779.6L302.9 777.7L301.6 775.7L300.3 773.7L299 771.7L297.6 769.8L296.3 767.8L295 765.8L293.6 763.8L292.3 761.9L290.9 759.9L289.5 757.9L288.2 755.9L286.8 754L285.4 752L284 750L282.6 748L281.2 746.1L279.8 744.1L278.3 742.1L276.9 740.1L275.5 738.2L274 736.2L272.6 734.2L271.1 732.2L269.6 730.2L268.2 728.3L266.7 726.3L265.2 724.3L263.7 722.3L262.2 720.4L260.7 718.4L259.2 716.4L257.7 714.4L256.2 712.5L254.6 710.5L253.1 708.5L251.6 706.5L250 704.6L248.5 702.6L246.9 700.6L245.4 698.6L243.8 696.7L242.3 694.7L240.7 692.7L239.1 690.7L237.6 688.8L236 686.8L234.4 684.8L232.8 682.8L231.2 680.9L229.6 678.9L228 676.9L226.4 674.9L224.9 672.9L223.3 671L221.7 669L220 667L218.4 665L216.8 663.1L215.2 661.1L213.6 659.1L212 657.1L210.4 655.2L208.8 653.2L207.2 651.2L205.5 649.2L203.9 647.3L202.3 645.3L200.7 643.3L199.1 641.3L197.5 639.4L195.8 637.4L194.2 635.4L192.6 633.4L191 631.5L189.4 629.5L187.7 627.5L186.1 625.5L184.5 623.6L182.9 621.6L181.3 619.6L179.7 617.6L178.1 615.7L176.4 613.7L174.8 611.7L173.2 609.7L171.6 607.7L170 605.8L168.4 603.8L166.8 601.8L165.2 599.8L163.6 597.9L162 595.9L160.4 593.9L158.9 591.9L157.3 590L155.7 588L154.1 586L152.5 584L151 582.1L149.4 580.1L147.8 578.1L146.3 576.1L144.7 574.2L143.1 572.2L141.6 570.2L140 568.2L138.5 566.3L136.9 564.3L135.4 562.3L133.8 560.3L132.3 558.4L130.8 556.4L129.3 554.4L127.7 552.4L126.2 550.4L124.7 548.5L123.2 546.5L121.7 544.5L120.2 542.5L118.7 540.6L117.2 538.6L115.7 536.6L114.2 534.6L112.7 532.7L111.2 530.7L109.8 528.7L108.3 526.7L106.8 524.8L105.4 522.8L103.9 520.8L102.5 518.8L101 516.9L99.6 514.9L98.1 512.9L96.7 510.9L95.3 509L93.8 507L92.4 505L91 503L89.6 501.1L88.2 499.1L86.8 497.1L85.4 495.1L84 493.2L82.6 491.2L81.2 489.2L79.8 487.2L78.5 485.2L77.1 483.3L75.7 481.3L74.4 479.3L73 477.3L71.7 475.4L70.3 473.4L69 471.4L67.7 469.4L66.3 467.5L65 465.5L63.7 463.5L62.4 461.5L61.1 459.6L59.8 457.6L58.5 455.6L57.2 453.6L55.9 451.7L54.6 449.7L53.3 447.7L52.1 445.7L50.8 443.8L49.5 441.8L48.3 439.8L47 437.8L45.8 435.9L44.5 433.9L43.3 431.9L42.1 429.9L40.8 427.9L39.6 426L38.4 424L37.2 422L36 420L34.8 418.1L33.6 416.1L32.4 414.1L31.2 412.1L30 410.2L28.9 408.2L27.7 406.2L26.5 404.2L25.4 402.3L24.2 400.3L23 398.3L21.9 396.3L20.8 394.4L19.6 392.4L18.5 390.4L17.4 388.4L16.2 386.5L15.1 384.5L14 382.5L12.9 380.5L11.8 378.6L10.7 376.6L9.6 374.6L8.5 372.6L7.4 370.7L6.4 368.7L5.3 366.7L4.2 364.7L3.2 362.7L2.1 360.8L1.1 358.8L0 356.8L-1 354.8L-2.1 352.9L-3.1 350.9L-4.1 348.9L-5.1 346.9L-6.2 345L-7.2 343L-8.2 341L-9.2 339L-10.2 337.1L-11.2 335.1L-12.2 333.1L-13.2 331.1L-14.1 329.2L-15.1 327.2L-16.1 325.2L-17 323.2L-18 321.3L-19 319.3L-19.9 317.3L-20.8 315.3L-21.8 313.4L-22.7 311.4L-23.7 309.4L-24.6 307.4L-25.5 305.4L-26.4 303.5L-27.3 301.5L-28.2 299.5L-29.1 297.5L-30 295.6L-30.9 293.6L-31.8 291.6L-32.7 289.6L-33.6 287.7L-34.5 285.7L-35.3 283.7L-36.2 281.7L-37 279.8L-37.9 277.8L-38.8 275.8L-39.6 273.8L-40.4 271.9L-41.3 269.9L-42.1 267.9L-42.9 265.9L-43.8 264L-44.6 262L-45.4 260L-46.2 258L-47 256.1L-47.8 254.1L-48.6 252.1L-49.4 250.1L-50.2 248.2L-51 246.2L-51.7 244.2L-52.5 242.2L-53.3 240.2L-54 238.3L-54.8 236.3L-55.6 234.3L-56.3 232.3L-57.1 230.4L-57.8 228.4L-58.5 226.4L-59.3 224.4L-60 222.5L-60.7 220.5L-61.4 218.5L-62.2 216.5L-62.9 214.6L-63.6 212.6L-64.3 210.6L-65 208.6L-65.7 206.7L-66.3 204.7L-67 202.7L-67.7 200.7L-68.4 198.8L-69.1 196.8L-69.7 194.8L-70.4 192.8L-71 190.9L-71.7 188.9L-72.3 186.9L-73 184.9L-73.6 182.9L-74.3 181L-74.9 179L-75.5 177L-76.2 175L-76.8 173.1L-77.4 171.1L-78 169.1L-78.6 167.1L-79.2 165.2L-79.8 163.2L-80.4 161.2L-81 159.2L-81.6 157.3L-82.2 155.3L-82.7 153.3L-83.3 151.3L-83.9 149.4L-84.4 147.4L-85 145.4L-85.6 143.4L-86.1 141.5L-86.7 139.5L-87.2 137.5L-87.7 135.5L-88.3 133.6L-88.8 131.6L-89.3 129.6L-89.9 127.6L-90.4 125.7L-90.9 123.7L-91.4 121.7L-91.9 119.7L-92.4 117.7L-92.9 115.8L-93.4 113.8L-93.9 111.8L-94.4 109.8L-94.9 107.9L-95.3 105.9L-95.8 103.9L-96.3 101.9L-96.7 100L-97.2 98L-97.7 96L-98.1 94L-98.6 92.1L-99 90.1L-99.5 88.1L-99.9 86.1L-100.3 84.2L-100.8 82.2L-101.2 80.2L-101.6 78.2L-102 76.3L-102.4 74.3L-102.9 72.3L-103.3 70.3L-103.7 68.4L-104.1 66.4L-104.5 64.4"/>
<path d="M401.5 871.5L401.2 870.6L400.9 869.8L400.6 869L400.3 868.1L400.1 867.3L399.8 866.4L399.5 865.6L399.2 864.8L398.9 863.9L398.6 863.1L398.3 862.3L398 861.4L397.8 860.6L397.5 859.7L397.2 858.9L396.9 858.1L396.6 857.2L396.3 856.4L396 855.6L395.7 854.7L394.9 852.7L394.2 850.8L393.5 848.8L392.7 846.8L392 844.8L391.2 842.9L390.5 840.9L389.7 838.9L388.9 836.9L388.1 835L387.3 833L386.5 831L385.7 829L384.9 827.1L384 825.1L383.2 823.1L382.3 821.1L381.5 819.2L380.6 817.2L379.8 815.2L378.9 813.2L378 811.3L377.1 809.3L376.2 807.3L375.3 805.3L374.3 803.4L373.4 801.4L372.5 799.4L371.5 797.4L370.6 795.4L369.6 793.5L368.6 791.5L367.6 789.5L366.6 787.5L365.6 785.6L364.6 783.6L363.6 781.6L362.6 779.6L361.5 777.7L360.5 775.7L359.4 773.7L358.3 771.7L357.3 769.8L356.2 767.8L355.1 765.8L354 763.8L352.9 761.9L351.7 759.9L350.6 757.9L349.5 755.9L348.3 754L347.2 752L346 750L344.8 748L343.6 746.1L342.5 744.1L341.3 742.1L340 740.1L338.8 738.2L337.6 736.2L336.4 734.2L335.1 732.2L333.9 730.2L332.6 728.3L331.3 726.3L330 724.3L328.8 722.3L327.5 720.4L326.2 718.4L324.8 716.4L323.5 714.4L322.2 712.5L320.9 710.5L319.5 708.5L318.2 706.5L316.8 704.6L315.4 702.6L314.1 700.6L312.7 698.6L311.3 696.7L309.9 694.7L308.5 692.7L307.1 690.7L305.7 688.8L304.2 686.8L302.8 684.8L301.4 682.8L299.9 680.9L298.5 678.9L297 676.9L295.5 674.9L294.1 672.9L292.6 671L291.1 669L289.6 667L288.1 665L286.6 663.1L285.1 661.1L283.6 659.1L282.1 657.1L280.6 655.2L279.1 653.2L277.5 651.2L276 649.2L274.5 647.3L272.9 645.3L271.4 643.3L269.8 641.3L268.3 639.4L266.7 637.4L265.2 635.4L263.6 633.4L262.1 631.5L260.5 629.5L258.9 627.5L257.3 625.5L255.8 623.6L254.2 621.6L252.6 619.6L251 617.6L249.4 615.7L247.9 613.7L246.3 611.7L244.7 609.7L243.1 607.7L241.5 605.8L239.9 603.8L238.3 601.8L236.7 599.8L235.1 597.9L233.5 595.9L231.9 593.9L230.3 591.9L228.7 590L227.2 588L225.6 586L224 584L222.4 582.1L220.8 580.1L219.2 578.1L217.6 576.1L216 574.2L214.4 572.2L212.8 570.2L211.2 568.2L209.6 566.3L208 564.3L206.5 562.3L204.9 560.3L203.3 558.4L201.7 556.4L200.1 554.4L198.6 552.4L197 550.4L195.4 548.5L193.9 546.5L192.3 544.5L190.7 542.5L189.2 540.6L187.6 538.6L186 536.6L184.5 534.6L182.9 532.7L181.4 530.7L179.8 528.7L178.3 526.7L176.8 524.8L175.2 522.8L173.7 520.8L172.2 518.8L170.7 516.9L169.1 514.9L167.6 512.9L166.1 510.9L164.6 509L163.1 507L161.6 505L160.1 503L158.6 501.1L157.1 499.1L155.6 497.1L154.1 495.1L152.6 493.2L151.2 491.2L149.7 489.2L148.2 487.2L146.8 485.2L145.3 483.3L143.9 481.3L142.4 479.3L141 477.3L139.5 475.4L138.1 473.4L136.7 471.4L135.2 469.4L133.8 467.5L132.4 465.5L131 463.5L129.6 461.5L128.2 459.6L126.8 457.6L125.4 455.6L124 453.6L122.6 451.7L121.2 449.7L119.8 447.7L118.5 445.7L117.1 443.8L115.7 441.8L114.4 439.8L113 437.8L111.7 435.9L110.4 433.9L109 431.9L107.7 429.9L106.4 427.9L105 426L103.7 424L102.4 422L101.1 420L99.8 418.1L98.5 416.1L97.2 414.1L95.9 412.1L94.6 410.2L93.4 408.2L92.1 406.2L90.8 404.2L89.6 402.3L88.3 400.3L87 398.3L85.8 396.3L84.6 394.4L83.3 392.4L82.1 390.4L80.9 388.4L79.6 386.5L78.4 384.5L77.2 382.5L76 380.5L74.8 378.6L73.6 376.6L72.4 374.6L71.2 372.6L70 370.7L68.9 368.7L67.7 366.7L66.5 364.7L65.4 362.7L64.2 360.8L63.1 358.8L61.9 356.8L60.8 354.8L59.6 352.9L58.5 350.9L57.4 348.9L56.2 346.9L55.1 345L54 343L52.9 341L51.8 339L50.7 337.1L49.6 335.1L48.5 333.1L47.4 331.1L46.4 329.2L45.3 327.2L44.2 325.2L43.2 323.2L42.1 321.3L41.1 319.3L40 317.3L39 315.3L37.9 313.4L36.9 311.4L35.9 309.4L34.8 307.4L33.8 305.4L32.8 303.5L31.8 301.5L30.8 299.5L29.8 297.5L28.8 295.6L27.8 293.6L26.8 291.6L25.9 289.6L24.9 287.7L23.9 285.7L22.9 283.7L22 281.7L21 279.8L20.1 277.8L19.1 275.8L18.2 273.8L17.3 271.9L16.3 269.9L15.4 267.9L14.5 265.9L13.6 264L12.6 262L11.7 260L10.8 258L9.9 256.1L9 254.1L8.2 252.1L7.3 250.1L6.4 248.2L5.5 246.2L4.6 244.2L3.8 242.2L2.9 240.2L2.1 238.3L1.2 236.3L0.4 234.3L-0.5 232.3L-1.3 230.4L-2.1 228.4L-3 226.4L-3.8 224.4L-4.6 222.5L-5.4 220.5L-6.2 218.5L-7 216.5L-7.8 214.6L-8.6 212.6L-9.4 210.6L-10.2 208.6L-11 206.7L-11.8 204.7L-12.6 202.7L-13.3 200.7L-14.1 198.8L-14.9 196.8L-15.6 194.8L-16.4 192.8L-17.1 190.9L-17.8 188.9L-18.6 186.9L-19.3 184.9L-20 182.9L-20.8 181L-21.5 179L-22.2 177L-22.9 175L-23.6 173.1L-24.3 171.1L-25 169.1L-25.7 167.1L-26.4 165.2L-27.1 163.2L-27.8 161.2L-28.4 159.2L-29.1 157.3L-29.8 155.3L-30.5 153.3L-31.1 151.3L-31.8 149.4L-32.4 147.4L-33.1 145.4L-33.7 143.4L-34.3 141.5L-35 139.5L-35.6 137.5L-36.2 135.5L-36.8 133.6L-37.5 131.6L-38.1 129.6L-38.7 127.6L-39.3 125.7L-39.9 123.7L-40.5 121.7L-41.1 119.7L-41.6 117.7L-42.2 115.8L-42.8 113.8L-43.4 111.8L-44 109.8L-44.5 107.9L-45.1 105.9L-45.6 103.9L-46.2 101.9L-46.7 100L-47.3 98L-47.8 96L-48.4 94L-48.9 92.1L-49.4 90.1L-49.9 88.1L-50.5 86.1L-51 84.2L-51.5 82.2L-52 80.2L-52.5 78.2L-53 76.3L-53.5 74.3L-54 72.3L-54.5 70.3L-54.9 68.4L-55.4 66.4L-55.9 64.4"/>
<path d="M448.6 871.5L448.5 870.6L448.3 869.8L448.1 869L447.9 868.1L447.7 867.3L447.5 866.4L447.3 865.6L447.1 864.8L446.9 863.9L446.7 863.1L446.5 862.3L446.4 861.4L446.2 860.6L446 859.7L445.8 858.9L445.6 858.1L445.4 857.2L445.2 856.4L444.9 855.6L444.7 854.7L444.3 852.7L443.8 850.8L443.3 848.8L442.8 846.8L442.2 844.8L441.7 842.9L441.2 840.9L440.7 838.9L440.1 836.9L439.6 835L439 833L438.5 831L437.9 829L437.3 827.1L436.8 825.1L436.2 823.1L435.6 821.1L435 819.2L434.4 817.2L433.8 815.2L433.2 813.2L432.5 811.3L431.9 809.3L431.3 807.3L430.6 805.3L429.9 803.4L429.3 801.4L428.6 799.4L427.9 797.4L427.2 795.4L426.6 793.5L425.9 791.5L425.1 789.5L424.4 787.5L423.7 785.6L423 783.6L422.2 781.6L421.5 779.6L420.7 777.7L419.9 775.7L419.2 773.7L418.4 771.7L417.6 769.8L416.8 767.8L416 765.8L415.2 763.8L414.4 761.9L413.5 759.9L412.7 757.9L411.8 755.9L411 754L410.1 752L409.2 750L408.3 748L407.4 746.1L406.5 744.1L405.6 742.1L404.7 740.1L403.8 738.2L402.8 736.2L401.9 734.2L400.9 732.2L400 730.2L399 728.3L398 726.3L397 724.3L396 722.3L395 720.4L394 718.4L392.9 716.4L391.9 714.4L390.9 712.5L389.8 710.5L388.7 708.5L387.7 706.5L386.6 704.6L385.5 702.6L384.4 700.6L383.3 698.6L382.1 696.7L381 694.7L379.9 692.7L378.7 690.7L377.6 688.8L376.4 686.8L375.2 684.8L374 682.8L372.8 680.9L371.6 678.9L370.4 676.9L369.2 674.9L368 672.9L366.7 671L365.5 669L364.2 667L363 665L361.7 663.1L360.4 661.1L359.1 659.1L357.8 657.1L356.5 655.2L355.2 653.2L353.9 651.2L352.6 649.2L351.2 647.3L349.9 645.3L348.5 643.3L347.2 641.3L345.8 639.4L344.4 637.4L343 635.4L341.7 633.4L340.3 631.5L338.9 629.5L337.4 627.5L336 625.5L334.6 623.6L333.2 621.6L331.7 619.6L330.3 617.6L328.9 615.7L327.4 613.7L325.9 611.7L324.5 609.7L323 607.7L321.5 605.8L320.1 603.8L318.6 601.8L317.1 599.8L315.6 597.9L314.1 595.9L312.6 593.9L311.1 591.9L309.6 590L308 588L306.5 586L305 584L303.5 582.1L301.9 580.1L300.4 578.1L298.9 576.1L297.3 574.2L295.8 572.2L294.2 570.2L292.7 568.2L291.1 566.3L289.6 564.3L288 562.3L286.5 560.3L284.9 558.4L283.3 556.4L281.8 554.4L280.2 552.4L278.6 550.4L277.1 548.5L275.5 546.5L273.9 544.5L272.4 542.5L270.8 540.6L269.2 538.6L267.7 536.6L266.1 534.6L264.5 532.7L263 530.7L261.4 528.7L259.8 526.7L258.3 524.8L256.7 522.8L255.1 520.8L253.5 518.8L252 516.9L250.4 514.9L248.9 512.9L247.3 510.9L245.7 509L244.2 507L242.6 505L241.1 503L239.5 501.1L238 499.1L236.4 497.1L234.9 495.1L233.3 493.2L231.8 491.2L230.2 489.2L228.7 487.2L227.2 485.2L225.6 483.3L224.1 481.3L222.6 479.3L221 477.3L219.5 475.4L218 473.4L216.5 471.4L215 469.4L213.5 467.5L212 465.5L210.5 463.5L209 461.5L207.5 459.6L206 457.6L204.5 455.6L203 453.6L201.5 451.7L200 449.7L198.6 447.7L197.1 445.7L195.6 443.8L194.2 441.8L192.7 439.8L191.3 437.8L189.8 435.9L188.4 433.9L186.9 431.9L185.5 429.9L184.1 427.9L182.6 426L181.2 424L179.8 422L178.4 420L177 418.1L175.6 416.1L174.2 414.1L172.8 412.1L171.4 410.2L170 408.2L168.6 406.2L167.2 404.2L165.8 402.3L164.5 400.3L163.1 398.3L161.7 396.3L160.4 394.4L159 392.4L157.7 390.4L156.4 388.4L155 386.5L153.7 384.5L152.4 382.5L151 380.5L149.7 378.6L148.4 376.6L147.1 374.6L145.8 372.6L144.5 370.7L143.2 368.7L141.9 366.7L140.7 364.7L139.4 362.7L138.1 360.8L136.8 358.8L135.6 356.8L134.3 354.8L133.1 352.9L131.8 350.9L130.6 348.9L129.3 346.9L128.1 345L126.9 343L125.7 341L124.4 339L123.2 337.1L122 335.1L120.8 333.1L119.6 331.1L118.4 329.2L117.2 327.2L116.1 325.2L114.9 323.2L113.7 321.3L112.5 319.3L111.4 317.3L110.2 315.3L109.1 313.4L107.9 311.4L106.8 309.4L105.6 307.4L104.5 305.4L103.4 303.5L102.3 301.5L101.1 299.5L100 297.5L98.9 295.6L97.8 293.6L96.7 291.6L95.6 289.6L94.5 287.7L93.5 285.7L92.4 283.7L91.3 281.7L90.2 279.8L89.2 277.8L88.1 275.8L87.1 273.8L86 271.9L85 269.9L83.9 267.9L82.9 265.9L81.9 264L80.8 262L79.8 260L78.8 258L77.8 256.1L76.8 254.1L75.8 252.1L74.8 250.1L73.8 248.2L72.8 246.2L71.8 244.2L70.9 242.2L69.9 240.2L68.9 238.3L68 236.3L67 234.3L66.1 232.3L65.1 230.4L64.2 228.4L63.2 226.4L62.3 224.4L61.4 222.5L60.5 220.5L59.5 218.5L58.6 216.5L57.7 214.6L56.8 212.6L55.9 210.6L55 208.6L54.1 206.7L53.2 204.7L52.4 202.7L51.5 200.7L50.6 198.8L49.8 196.8L48.9 194.8L48 192.8L47.2 190.9L46.3 188.9L45.5 186.9L44.7 184.9L43.8 182.9L43 181L42.2 179L41.3 177L40.5 175L39.7 173.1L38.9 171.1L38.1 169.1L37.3 167.1L36.5 165.2L35.7 163.2L35 161.2L34.2 159.2L33.4 157.3L32.6 155.3L31.9 153.3L31.1 151.3L30.3 149.4L29.6 147.4L28.8 145.4L28.1 143.4L27.4 141.5L26.6 139.5L25.9 137.5L25.2 135.5L24.5 133.6L23.7 131.6L23 129.6L22.3 127.6L21.6 125.7L20.9 123.7L20.2 121.7L19.5 119.7L18.8 117.7L18.2 115.8L17.5 113.8L16.8 111.8L16.1 109.8L15.5 107.9L14.8 105.9L14.2 103.9L13.5 101.9L12.9 100L12.2 98L11.6 96L11 94L10.3 92.1L9.7 90.1L9.1 88.1L8.5 86.1L7.9 84.2L7.2 82.2L6.6 80.2L6 78.2L5.4 76.3L4.9 74.3L4.3 72.3L3.7 70.3L3.1 68.4L2.5 66.4L2 64.4"/>
<path d="M495.9 871.5L495.8 870.6L495.7 869.8L495.6 869L495.5 868.1L495.4 867.3L495.3 866.4L495.2 865.6L495.1 864.8L495 863.9L494.9 863.1L494.8 862.3L494.7 861.4L494.6 860.6L494.5 859.7L494.4 858.9L494.3 858.1L494.2 857.2L494.1 856.4L493.9 855.6L493.8 854.7L493.6 852.7L493.3 850.8L493 848.8L492.7 846.8L492.4 844.8L492.2 842.9L491.9 840.9L491.6 838.9L491.3 836.9L490.9 835L490.6 833L490.3 831L490 829L489.7 827.1L489.3 825.1L489 823.1L488.6 821.1L488.3 819.2L487.9 817.2L487.6 815.2L487.2 813.2L486.8 811.3L486.5 809.3L486.1 807.3L485.7 805.3L485.3 803.4L484.9 801.4L484.5 799.4L484.1 797.4L483.7 795.4L483.2 793.5L482.8 791.5L482.4 789.5L481.9 787.5L481.5 785.6L481 783.6L480.6 781.6L480.1 779.6L479.6 777.7L479.2 775.7L478.7 773.7L478.2 771.7L477.7 769.8L477.2 767.8L476.7 765.8L476.2 763.8L475.6 761.9L475.1 759.9L474.6 757.9L474 755.9L473.5 754L472.9 752L472.3 750L471.8 748L471.2 746.1L470.6 744.1L470 742.1L469.4 740.1L468.8 738.2L468.2 736.2L467.5 734.2L466.9 732.2L466.3 730.2L465.6 728.3L465 726.3L464.3 724.3L463.6 722.3L462.9 720.4L462.3 718.4L461.6 716.4L460.8 714.4L460.1 712.5L459.4 710.5L458.7 708.5L457.9 706.5L457.2 704.6L456.4 702.6L455.7 700.6L454.9 698.6L454.1 696.7L453.3 694.7L452.5 692.7L451.7 690.7L450.9 688.8L450.1 686.8L449.2 684.8L448.4 682.8L447.6 680.9L446.7 678.9L445.8 676.9L444.9 674.9L444.1 672.9L443.2 671L442.2 669L441.3 667L440.4 665L439.5 663.1L438.5 661.1L437.6 659.1L436.6 657.1L435.6 655.2L434.7 653.2L433.7 651.2L432.7 649.2L431.7 647.3L430.6 645.3L429.6 643.3L428.6 641.3L427.5 639.4L426.5 637.4L425.4 635.4L424.3 633.4L423.2 631.5L422.2 629.5L421.1 627.5L419.9 625.5L418.8 623.6L417.7 621.6L416.6 619.6L415.4 617.6L414.2 615.7L413.1 613.7L411.9 611.7L410.7 609.7L409.5 607.7L408.3 605.8L407.1 603.8L405.9 601.8L404.7 599.8L403.4 597.9L402.2 595.9L400.9 593.9L399.7 591.9L398.4 590L397.1 588L395.8 586L394.5 584L393.2 582.1L391.9 580.1L390.6 578.1L389.3 576.1L387.9 574.2L386.6 572.2L385.2 570.2L383.9 568.2L382.5 566.3L381.2 564.3L379.8 562.3L378.4 560.3L377 558.4L375.6 556.4L374.2 554.4L372.8 552.4L371.4 550.4L370 548.5L368.5 546.5L367.1 544.5L365.7 542.5L364.2 540.6L362.8 538.6L361.3 536.6L359.8 534.6L358.4 532.7L356.9 530.7L355.4 528.7L354 526.7L352.5 524.8L351 522.8L349.5 520.8L348 518.8L346.5 516.9L345 514.9L343.5 512.9L342 510.9L340.5 509L339 507L337.4 505L335.9 503L334.4 501.1L332.9 499.1L331.4 497.1L329.8 495.1L328.3 493.2L326.8 491.2L325.2 489.2L323.7 487.2L322.2 485.2L320.6 483.3L319.1 481.3L317.5 479.3L316 477.3L314.5 475.4L312.9 473.4L311.4 471.4L309.8 469.4L308.3 467.5L306.8 465.5L305.2 463.5L303.7 461.5L302.1 459.6L300.6 457.6L299.1 455.6L297.5 453.6L296 451.7L294.5 449.7L292.9 447.7L291.4 445.7L289.9 443.8L288.3 441.8L286.8 439.8L285.3 437.8L283.8 435.9L282.2 433.9L280.7 431.9L279.2 429.9L277.7 427.9L276.2 426L274.7 424L273.1 422L271.6 420L270.1 418.1L268.6 416.1L267.1 414.1L265.6 412.1L264.2 410.2L262.7 408.2L261.2 406.2L259.7 404.2L258.2 402.3L256.7 400.3L255.3 398.3L253.8 396.3L252.3 394.4L250.9 392.4L249.4 390.4L248 388.4L246.5 386.5L245.1 384.5L243.6 382.5L242.2 380.5L240.8 378.6L239.3 376.6L237.9 374.6L236.5 372.6L235.1 370.7L233.6 368.7L232.2 366.7L230.8 364.7L229.4 362.7L228 360.8L226.6 358.8L225.2 356.8L223.9 354.8L222.5 352.9L221.1 350.9L219.7 348.9L218.4 346.9L217 345L215.7 343L214.3 341L213 339L211.6 337.1L210.3 335.1L208.9 333.1L207.6 331.1L206.3 329.2L205 327.2L203.7 325.2L202.3 323.2L201 321.3L199.7 319.3L198.4 317.3L197.2 315.3L195.9 313.4L194.6 311.4L193.3 309.4L192 307.4L190.8 305.4L189.5 303.5L188.3 301.5L187 299.5L185.8 297.5L184.5 295.6L183.3 293.6L182 291.6L180.8 289.6L179.6 287.7L178.4 285.7L177.2 283.7L176 281.7L174.8 279.8L173.6 277.8L172.4 275.8L171.2 273.8L170 271.9L168.8 269.9L167.6 267.9L166.5 265.9L165.3 264L164.2 262L163 260L161.9 258L160.7 256.1L159.6 254.1L158.4 252.1L157.3 250.1L156.2 248.2L155.1 246.2L154 244.2L152.9 242.2L151.7 240.2L150.6 238.3L149.6 236.3L148.5 234.3L147.4 232.3L146.3 230.4L145.2 228.4L144.2 226.4L143.1 224.4L142 222.5L141 220.5L139.9 218.5L138.9 216.5L137.9 214.6L136.8 212.6L135.8 210.6L134.8 208.6L133.7 206.7L132.7 204.7L131.7 202.7L130.7 200.7L129.7 198.8L128.7 196.8L127.7 194.8L126.7 192.8L125.8 190.9L124.8 188.9L123.8 186.9L122.8 184.9L121.9 182.9L120.9 181L120 179L119 177L118.1 175L117.1 173.1L116.2 171.1L115.3 169.1L114.4 167.1L113.4 165.2L112.5 163.2L111.6 161.2L110.7 159.2L109.8 157.3L108.9 155.3L108 153.3L107.1 151.3L106.3 149.4L105.4 147.4L104.5 145.4L103.6 143.4L102.8 141.5L101.9 139.5L101.1 137.5L100.2 135.5L99.4 133.6L98.5 131.6L97.7 129.6L96.9 127.6L96.1 125.7L95.2 123.7L94.4 121.7L93.6 119.7L92.8 117.7L92 115.8L91.2 113.8L90.4 111.8L89.6 109.8L88.8 107.9L88 105.9L87.3 103.9L86.5 101.9L85.7 100L85 98L84.2 96L83.5 94L82.7 92.1L82 90.1L81.2 88.1L80.5 86.1L79.8 84.2L79 82.2L78.3 80.2L77.6 78.2L76.9 76.3L76.2 74.3L75.5 72.3L74.8 70.3L74.1 68.4L73.4 66.4L72.7 64.4"/>
<path d="M543.4 871.5L543.4 870.6L543.4 869.8L543.4 869L543.3 868.1L543.3 867.3L543.3 866.4L543.3 865.6L543.2 864.8L543.2 863.9L543.2 863.1L543.2 862.3L543.1 861.4L543.1 860.6L543.1 859.7L543.1 858.9L543 858.1L543 857.2L543 856.4L542.9 855.6L542.9 854.7L542.8 852.7L542.8 850.8L542.7 848.8L542.6 846.8L542.5 844.8L542.4 842.9L542.3 840.9L542.3 838.9L542.2 836.9L542.1 835L542 833L541.9 831L541.7 829L541.6 827.1L541.5 825.1L541.4 823.1L541.3 821.1L541.2 819.2L541 817.2L540.9 815.2L540.8 813.2L540.6 811.3L540.5 809.3L540.3 807.3L540.2 805.3L540 803.4L539.9 801.4L539.7 799.4L539.5 797.4L539.4 795.4L539.2 793.5L539 791.5L538.8 789.5L538.6 787.5L538.4 785.6L538.3 783.6L538.1 781.6L537.8 779.6L537.6 777.7L537.4 775.7L537.2 773.7L537 771.7L536.8 769.8L536.5 767.8L536.3 765.8L536.1 763.8L535.8 761.9L535.6 759.9L535.3 757.9L535.1 755.9L534.8 754L534.5 752L534.3 750L534 748L533.7 746.1L533.4 744.1L533.1 742.1L532.8 740.1L532.5 738.2L532.2 736.2L531.9 734.2L531.6 732.2L531.2 730.2L530.9 728.3L530.6 726.3L530.2 724.3L529.9 722.3L529.5 720.4L529.2 718.4L528.8 716.4L528.4 714.4L528 712.5L527.7 710.5L527.3 708.5L526.9 706.5L526.5 704.6L526.1 702.6L525.6 700.6L525.2 698.6L524.8 696.7L524.4 694.7L523.9 692.7L523.5 690.7L523 688.8L522.5 686.8L522.1 684.8L521.6 682.8L521.1 680.9L520.6 678.9L520.1 676.9L519.6 674.9L519.1 672.9L518.6 671L518.1 669L517.5 667L517 665L516.4 663.1L515.9 661.1L515.3 659.1L514.8 657.1L514.2 655.2L513.6 653.2L513 651.2L512.4 649.2L511.8 647.3L511.2 645.3L510.5 643.3L509.9 641.3L509.3 639.4L508.6 637.4L507.9 635.4L507.3 633.4L506.6 631.5L505.9 629.5L505.2 627.5L504.5 625.5L503.8 623.6L503.1 621.6L502.4 619.6L501.6 617.6L500.9 615.7L500.1 613.7L499.3 611.7L498.6 609.7L497.8 607.7L497 605.8L496.2 603.8L495.4 601.8L494.6 599.8L493.7 597.9L492.9 595.9L492.1 593.9L491.2 591.9L490.3 590L489.5 588L488.6 586L487.7 584L486.8 582.1L485.9 580.1L484.9 578.1L484 576.1L483.1 574.2L482.1 572.2L481.2 570.2L480.2 568.2L479.2 566.3L478.2 564.3L477.2 562.3L476.2 560.3L475.2 558.4L474.2 556.4L473.1 554.4L472.1 552.4L471 550.4L470 548.5L468.9 546.5L467.8 544.5L466.7 542.5L465.6 540.6L464.5 538.6L463.4 536.6L462.2 534.6L461.1 532.7L459.9 530.7L458.8 528.7L457.6 526.7L456.4 524.8L455.3 522.8L454.1 520.8L452.9 518.8L451.6 516.9L450.4 514.9L449.2 512.9L448 510.9L446.7 509L445.5 507L444.2 505L442.9 503L441.6 501.1L440.4 499.1L439.1 497.1L437.8 495.1L436.5 493.2L435.1 491.2L433.8 489.2L432.5 487.2L431.1 485.2L429.8 483.3L428.5 481.3L427.1 479.3L425.7 477.3L424.4 475.4L423 473.4L421.6 471.4L420.2 469.4L418.8 467.5L417.4 465.5L416 463.5L414.6 461.5L413.2 459.6L411.7 457.6L410.3 455.6L408.9 453.6L407.4 451.7L406 449.7L404.6 447.7L403.1 445.7L401.6 443.8L400.2 441.8L398.7 439.8L397.3 437.8L395.8 435.9L394.3 433.9L392.8 431.9L391.4 429.9L389.9 427.9L388.4 426L386.9 424L385.4 422L383.9 420L382.4 418.1L380.9 416.1L379.4 414.1L377.9 412.1L376.4 410.2L374.9 408.2L373.4 406.2L371.9 404.2L370.4 402.3L368.9 400.3L367.4 398.3L365.9 396.3L364.4 394.4L362.9 392.4L361.4 390.4L359.9 388.4L358.4 386.5L356.9 384.5L355.4 382.5L353.9 380.5L352.4 378.6L350.9 376.6L349.4 374.6L347.9 372.6L346.4 370.7L344.9 368.7L343.4 366.7L341.9 364.7L340.4 362.7L338.9 360.8L337.4 358.8L335.9 356.8L334.4 354.8L332.9 352.9L331.4 350.9L330 348.9L328.5 346.9L327 345L325.5 343L324.1 341L322.6 339L321.2 337.1L319.7 335.1L318.2 333.1L316.8 331.1L315.3 329.2L313.9 327.2L312.4 325.2L311 323.2L309.6 321.3L308.1 319.3L306.7 317.3L305.3 315.3L303.8 313.4L302.4 311.4L301 309.4L299.6 307.4L298.2 305.4L296.8 303.5L295.4 301.5L294 299.5L292.6 297.5L291.2 295.6L289.8 293.6L288.4 291.6L287.1 289.6L285.7 287.7L284.3 285.7L283 283.7L281.6 281.7L280.3 279.8L278.9 277.8L277.6 275.8L276.2 273.8L274.9 271.9L273.6 269.9L272.2 267.9L270.9 265.9L269.6 264L268.3 262L267 260L265.7 258L264.4 256.1L263.1 254.1L261.8 252.1L260.5 250.1L259.2 248.2L257.9 246.2L256.7 244.2L255.4 242.2L254.1 240.2L252.9 238.3L251.6 236.3L250.4 234.3L249.1 232.3L247.9 230.4L246.7 228.4L245.4 226.4L244.2 224.4L243 222.5L241.8 220.5L240.6 218.5L239.4 216.5L238.2 214.6L237 212.6L235.8 210.6L234.6 208.6L233.4 206.7L232.3 204.7L231.1 202.7L229.9 200.7L228.8 198.8L227.6 196.8L226.5 194.8L225.3 192.8L224.2 190.9L223 188.9L221.9 186.9L220.8 184.9L219.7 182.9L218.6 181L217.4 179L216.3 177L215.2 175L214.1 173.1L213.1 171.1L212 169.1L210.9 167.1L209.8 165.2L208.7 163.2L207.7 161.2L206.6 159.2L205.6 157.3L204.5 155.3L203.5 153.3L202.4 151.3L201.4 149.4L200.4 147.4L199.3 145.4L198.3 143.4L197.3 141.5L196.3 139.5L195.3 137.5L194.3 135.5L193.3 133.6L192.3 131.6L191.3 129.6L190.3 127.6L189.3 125.7L188.4 123.7L187.4 121.7L186.4 119.7L185.5 117.7L184.5 115.8L183.6 113.8L182.6 111.8L181.7 109.8L180.7 107.9L179.8 105.9L178.9 103.9L178 101.9L177.1 100L176.1 98L175.2 96L174.3 94L173.4 92.1L172.5 90.1L171.7 88.1L170.8 86.1L169.9 84.2L169 82.2L168.1 80.2L167.3 78.2L166.4 76.3L165.6 74.3L164.7 72.3L163.9 70.3L163 68.4L162.2 66.4L161.4 64.4"/>
<path d="M591.1 871.5L591.2 870.6L591.2 869.8L591.3 869L591.3 868.1L591.3 867.3L591.4 866.4L591.4 865.6L591.5 864.8L591.5 863.9L591.6 863.1L591.6 862.3L591.7 861.4L591.7 860.6L591.7 859.7L591.8 858.9L591.8 858.1L591.9 857.2L591.9 856.4L592 855.6L592 854.7L592.1 852.7L592.2 850.8L592.3 848.8L592.4 846.8L592.5 844.8L592.6 842.9L592.6 840.9L592.7 838.9L592.8 836.9L592.9 835L593 833L593.1 831L593.1 829L593.2 827.1L593.3 825.1L593.3 823.1L593.4 821.1L593.5 819.2L593.5 817.2L593.6 815.2L593.7 813.2L593.7 811.3L593.8 809.3L593.8 807.3L593.9 805.3L593.9 803.4L594 801.4L594 799.4L594.1 797.4L594.1 795.4L594.1 793.5L594.2 791.5L594.2 789.5L594.2 787.5L594.3 785.6L594.3 783.6L594.3 781.6L594.3 779.6L594.4 777.7L594.4 775.7L594.4 773.7L594.4 771.7L594.4 769.8L594.4 767.8L594.4 765.8L594.4 763.8L594.4 761.9L594.4 759.9L594.4 757.9L594.4 755.9L594.4 754L594.3 752L594.3 750L594.3 748L594.3 746.1L594.2 744.1L594.2 742.1L594.2 740.1L594.1 738.2L594.1 736.2L594 734.2L594 732.2L593.9 730.2L593.9 728.3L593.8 726.3L593.8 724.3L593.7 722.3L593.6 720.4L593.5 718.4L593.5 716.4L593.4 714.4L593.3 712.5L593.2 710.5L593.1 708.5L593 706.5L592.9 704.6L592.8 702.6L592.7 700.6L592.6 698.6L592.5 696.7L592.4 694.7L592.2 692.7L592.1 690.7L592 688.8L591.8 686.8L591.7 684.8L591.5 682.8L591.4 680.9L591.2 678.9L591.1 676.9L590.9 674.9L590.7 672.9L590.6 671L590.4 669L590.2 667L590 665L589.8 663.1L589.6 661.1L589.4 659.1L589.2 657.1L589 655.2L588.8 653.2L588.6 651.2L588.3 649.2L588.1 647.3L587.9 645.3L587.6 643.3L587.4 641.3L587.1 639.4L586.9 637.4L586.6 635.4L586.3 633.4L586 631.5L585.8 629.5L585.5 627.5L585.2 625.5L584.9 623.6L584.6 621.6L584.3 619.6L583.9 617.6L583.6 615.7L583.3 613.7L582.9 611.7L582.6 609.7L582.3 607.7L581.9 605.8L581.5 603.8L581.2 601.8L580.8 599.8L580.4 597.9L580 595.9L579.6 593.9L579.2 591.9L578.8 590L578.4 588L578 586L577.5 584L577.1 582.1L576.6 580.1L576.2 578.1L575.7 576.1L575.3 574.2L574.8 572.2L574.3 570.2L573.8 568.2L573.3 566.3L572.8 564.3L572.3 562.3L571.8 560.3L571.2 558.4L570.7 556.4L570.1 554.4L569.6 552.4L569 550.4L568.5 548.5L567.9 546.5L567.3 544.5L566.7 542.5L566.1 540.6L565.5 538.6L564.9 536.6L564.2 534.6L563.6 532.7L562.9 530.7L562.3 528.7L561.6 526.7L560.9 524.8L560.2 522.8L559.6 520.8L558.9 518.8L558.1 516.9L557.4 514.9L556.7 512.9L556 510.9L555.2 509L554.4 507L553.7 505L552.9 503L552.1 501.1L551.3 499.1L550.5 497.1L549.7 495.1L548.9 493.2L548 491.2L547.2 489.2L546.3 487.2L545.5 485.2L544.6 483.3L543.7 481.3L542.8 479.3L541.9 477.3L541 475.4L540.1 473.4L539.2 471.4L538.2 469.4L537.3 467.5L536.3 465.5L535.3 463.5L534.3 461.5L533.4 459.6L532.3 457.6L531.3 455.6L530.3 453.6L529.3 451.7L528.2 449.7L527.2 447.7L526.1 445.7L525.1 443.8L524 441.8L522.9 439.8L521.8 437.8L520.7 435.9L519.6 433.9L518.5 431.9L517.3 429.9L516.2 427.9L515 426L513.9 424L512.7 422L511.5 420L510.3 418.1L509.1 416.1L507.9 414.1L506.7 412.1L505.5 410.2L504.3 408.2L503 406.2L501.8 404.2L500.5 402.3L499.3 400.3L498 398.3L496.7 396.3L495.4 394.4L494.1 392.4L492.8 390.4L491.5 388.4L490.2 386.5L488.9 384.5L487.6 382.5L486.3 380.5L484.9 378.6L483.6 376.6L482.2 374.6L480.9 372.6L479.5 370.7L478.1 368.7L476.7 366.7L475.4 364.7L474 362.7L472.6 360.8L471.2 358.8L469.8 356.8L468.4 354.8L467 352.9L465.6 350.9L464.2 348.9L462.7 346.9L461.3 345L459.9 343L458.5 341L457 339L455.6 337.1L454.1 335.1L452.7 333.1L451.2 331.1L449.8 329.2L448.4 327.2L446.9 325.2L445.4 323.2L444 321.3L442.5 319.3L441.1 317.3L439.6 315.3L438.1 313.4L436.7 311.4L435.2 309.4L433.8 307.4L432.3 305.4L430.8 303.5L429.4 301.5L427.9 299.5L426.4 297.5L425 295.6L423.5 293.6L422 291.6L420.6 289.6L419.1 287.7L417.6 285.7L416.2 283.7L414.7 281.7L413.2 279.8L411.8 277.8L410.3 275.8L408.9 273.8L407.4 271.9L406 269.9L404.5 267.9L403.1 265.9L401.6 264L400.2 262L398.7 260L397.3 258L395.8 256.1L394.4 254.1L393 252.1L391.5 250.1L390.1 248.2L388.7 246.2L387.3 244.2L385.8 242.2L384.4 240.2L383 238.3L381.6 236.3L380.2 234.3L378.8 232.3L377.4 230.4L376 228.4L374.6 226.4L373.2 224.4L371.8 222.5L370.4 220.5L369.1 218.5L367.7 216.5L366.3 214.6L364.9 212.6L363.6 210.6L362.2 208.6L360.9 206.7L359.5 204.7L358.2 202.7L356.8 200.7L355.5 198.8L354.1 196.8L352.8 194.8L351.5 192.8L350.2 190.9L348.8 188.9L347.5 186.9L346.2 184.9L344.9 182.9L343.6 181L342.3 179L341 177L339.7 175L338.5 173.1L337.2 171.1L335.9 169.1L334.6 167.1L333.4 165.2L332.1 163.2L330.9 161.2L329.6 159.2L328.4 157.3L327.1 155.3L325.9 153.3L324.7 151.3L323.4 149.4L322.2 147.4L321 145.4L319.8 143.4L318.6 141.5L317.4 139.5L316.2 137.5L315 135.5L313.8 133.6L312.6 131.6L311.4 129.6L310.3 127.6L309.1 125.7L307.9 123.7L306.8 121.7L305.6 119.7L304.5 117.7L303.3 115.8L302.2 113.8L301 111.8L299.9 109.8L298.8 107.9L297.7 105.9L296.6 103.9L295.4 101.9L294.3 100L293.2 98L292.1 96L291.1 94L290 92.1L288.9 90.1L287.8 88.1L286.7 86.1L285.7 84.2L284.6 82.2L283.6 80.2L282.5 78.2L281.5 76.3L280.4 74.3L279.4 72.3L278.3 70.3L277.3 68.4L276.3 66.4L275.3 64.4"/>
<path d="M639 871.5L639.2 870.6L639.3 869.8L639.4 869L639.5 868.1L639.6 867.3L639.7 866.4L639.8 865.6L639.9 864.8L640 863.9L640.1 863.1L640.2 862.3L640.3 861.4L640.4 860.6L640.5 859.7L640.6 858.9L640.7 858.1L640.8 857.2L640.9 856.4L641 855.6L641.1 854.7L641.3 852.7L641.6 850.8L641.8 848.8L642 846.8L642.3 844.8L642.5 842.9L642.7 840.9L643 838.9L643.2 836.9L643.4 835L643.7 833L643.9 831L644.1 829L644.3 827.1L644.6 825.1L644.8 823.1L645 821.1L645.2 819.2L645.5 817.2L645.7 815.2L645.9 813.2L646.1 811.3L646.3 809.3L646.6 807.3L646.8 805.3L647 803.4L647.2 801.4L647.4 799.4L647.6 797.4L647.8 795.4L648.1 793.5L648.3 791.5L648.5 789.5L648.7 787.5L648.9 785.6L649.1 783.6L649.3 781.6L649.5 779.6L649.7 777.7L649.9 775.7L650.1 773.7L650.3 771.7L650.5 769.8L650.7 767.8L650.9 765.8L651.1 763.8L651.2 761.9L651.4 759.9L651.6 757.9L651.8 755.9L652 754L652.2 752L652.4 750L652.5 748L652.7 746.1L652.9 744.1L653.1 742.1L653.2 740.1L653.4 738.2L653.6 736.2L653.7 734.2L653.9 732.2L654.1 730.2L654.2 728.3L654.4 726.3L654.6 724.3L654.7 722.3L654.9 720.4L655 718.4L655.2 716.4L655.3 714.4L655.5 712.5L655.6 710.5L655.8 708.5L655.9 706.5L656.1 704.6L656.2 702.6L656.3 700.6L656.5 698.6L656.6 696.7L656.7 694.7L656.9 692.7L657 690.7L657.1 688.8L657.2 686.8L657.3 684.8L657.5 682.8L657.6 680.9L657.7 678.9L657.8 676.9L657.9 674.9L658 672.9L658.1 671L658.2 669L658.3 667L658.4 665L658.5 663.1L658.6 661.1L658.7 659.1L658.8 657.1L658.8 655.2L658.9 653.2L659 651.2L659.1 649.2L659.1 647.3L659.2 645.3L659.3 643.3L659.3 641.3L659.4 639.4L659.5 637.4L659.5 635.4L659.6 633.4L659.6 631.5L659.6 629.5L659.7 627.5L659.7 625.5L659.8 623.6L659.8 621.6L659.8 619.6L659.8 617.6L659.9 615.7L659.9 613.7L659.9 611.7L659.9 609.7L659.9 607.7L659.9 605.8L659.9 603.8L659.9 601.8L659.9 599.8L659.9 597.9L659.9 595.9L659.9 593.9L659.8 591.9L659.8 590L659.8 588L659.8 586L659.7 584L659.7 582.1L659.6 580.1L659.6 578.1L659.5 576.1L659.5 574.2L659.4 572.2L659.3 570.2L659.3 568.2L659.2 566.3L659.1 564.3L659 562.3L658.9 560.3L658.8 558.4L658.7 556.4L658.6 554.4L658.5 552.4L658.4 550.4L658.3 548.5L658.2 546.5L658 544.5L657.9 542.5L657.8 540.6L657.6 538.6L657.5 536.6L657.3 534.6L657.2 532.7L657 530.7L656.8 528.7L656.7 526.7L656.5 524.8L656.3 522.8L656.1 520.8L655.9 518.8L655.7 516.9L655.5 514.9L655.3 512.9L655.1 510.9L654.8 509L654.6 507L654.4 505L654.1 503L653.9 501.1L653.6 499.1L653.3 497.1L653.1 495.1L652.8 493.2L652.5 491.2L652.2 489.2L651.9 487.2L651.6 485.2L651.3 483.3L651 481.3L650.7 479.3L650.4 477.3L650 475.4L649.7 473.4L649.3 471.4L649 469.4L648.6 467.5L648.2 465.5L647.8 463.5L647.4 461.5L647.1 459.6L646.6 457.6L646.2 455.6L645.8 453.6L645.4 451.7L645 449.7L644.5 447.7L644.1 445.7L643.6 443.8L643.1 441.8L642.7 439.8L642.2 437.8L641.7 435.9L641.2 433.9L640.7 431.9L640.2 429.9L639.6 427.9L639.1 426L638.6 424L638 422L637.4 420L636.9 418.1L636.3 416.1L635.7 414.1L635.1 412.1L634.5 410.2L633.9 408.2L633.3 406.2L632.6 404.2L632 402.3L631.3 400.3L630.7 398.3L630 396.3L629.3 394.4L628.6 392.4L627.9 390.4L627.2 388.4L626.5 386.5L625.8 384.5L625 382.5L624.3 380.5L623.5 378.6L622.7 376.6L622 374.6L621.2 372.6L620.4 370.7L619.6 368.7L618.7 366.7L617.9 364.7L617.1 362.7L616.2 360.8L615.4 358.8L614.5 356.8L613.6 354.8L612.7 352.9L611.8 350.9L610.9 348.9L610 346.9L609.1 345L608.1 343L607.2 341L606.2 339L605.2 337.1L604.3 335.1L603.3 333.1L602.3 331.1L601.3 329.2L600.2 327.2L599.2 325.2L598.2 323.2L597.1 321.3L596.1 319.3L595 317.3L593.9 315.3L592.8 313.4L591.7 311.4L590.6 309.4L589.5 307.4L588.4 305.4L587.2 303.5L586.1 301.5L585 299.5L583.8 297.5L582.6 295.6L581.5 293.6L580.3 291.6L579.1 289.6L577.9 287.7L576.7 285.7L575.4 283.7L574.2 281.7L573 279.8L571.7 277.8L570.5 275.8L569.2 273.8L568 271.9L566.7 269.9L565.4 267.9L564.1 265.9L562.9 264L561.6 262L560.3 260L558.9 258L557.6 256.1L556.3 254.1L555 252.1L553.7 250.1L552.3 248.2L551 246.2L549.6 244.2L548.3 242.2L546.9 240.2L545.6 238.3L544.2 236.3L542.8 234.3L541.5 232.3L540.1 230.4L538.7 228.4L537.3 226.4L535.9 224.4L534.5 222.5L533.1 220.5L531.7 218.5L530.3 216.5L528.9 214.6L527.5 212.6L526.1 210.6L524.7 208.6L523.3 206.7L521.9 204.7L520.5 202.7L519.1 200.7L517.7 198.8L516.3 196.8L514.8 194.8L513.4 192.8L512 190.9L510.6 188.9L509.2 186.9L507.7 184.9L506.3 182.9L504.9 181L503.5 179L502.1 177L500.7 175L499.2 173.1L497.8 171.1L496.4 169.1L495 167.1L493.6 165.2L492.2 163.2L490.8 161.2L489.4 159.2L487.9 157.3L486.5 155.3L485.1 153.3L483.7 151.3L482.3 149.4L480.9 147.4L479.5 145.4L478.2 143.4L476.8 141.5L475.4 139.5L474 137.5L472.6 135.5L471.2 133.6L469.9 131.6L468.5 129.6L467.1 127.6L465.7 125.7L464.4 123.7L463 121.7L461.7 119.7L460.3 117.7L458.9 115.8L457.6 113.8L456.3 111.8L454.9 109.8L453.6 107.9L452.2 105.9L450.9 103.9L449.6 101.9L448.3 100L446.9 98L445.6 96L444.3 94L443 92.1L441.7 90.1L440.4 88.1L439.1 86.1L437.8 84.2L436.5 82.2L435.3 80.2L434 78.2L432.7 76.3L431.4 74.3L430.2 72.3L428.9 70.3L427.7 68.4L426.4 66.4L425.2 64.4"/>
</g>
<g stroke="#008000" stroke-opacity="0.8" stroke-width="2.05" stroke-dasharray="7.7 3.3" fill="none">
<path d="M198.6 679.4L184 700.2L170.2 719.8L157.2 738.4L144.9 756L133.2 772.7L122.1 788.7L111.5 804L101.3 818.6L91.6 832.6L82.3 846L73.4 859L64.8 871.5"/>
<path d="M295.6 679.4L281.5 700.2L268.3 719.8L255.8 738.4L244 756L232.8 772.7L222.2 788.7L212 804L202.3 818.6L193 832.6L184.2 846L175.6 859L167.4 871.5"/>
<path d="M375.1 679.4L361.5 700.2L348.8 719.8L336.8 738.4L325.4 756L314.6 772.7L304.4 788.7L294.6 804L285.3 818.6L276.4 832.6L267.8 846L259.6 859L251.7 871.5"/>
<path d="M460.4 679.4L447.4 700.2L435.2 719.8L423.7 738.4L412.9 756L402.6 772.7L392.8 788.7L383.4 804L374.5 818.6L366 832.6L357.9 846L350 859L342.5 871.5"/>
<path d="M533.9 679.4L521.4 700.2L509.7 719.8L498.7 738.4L488.2 756L478.3 772.7L468.9 788.7L460 804L451.5 818.6L443.3 832.6L435.5 846L428 859L420.8 871.5"/>
<path d="M583 679.4L570.9 700.2L559.5 719.8L548.7 738.4L538.6 756L529 772.7L519.9 788.7L511.2 804L502.9 818.6L495 832.6L487.4 846L480.2 859L473.2 871.5"/>
<path d="M650.3 679.4L638.7 700.2L627.7 719.8L617.4 738.4L607.7 756L598.5 772.7L589.8 788.7L581.5 804L573.6 818.6L566 832.6L558.8 846L551.9 859L545.2 871.5"/>
<path d="M710.8 679.4L699.6 700.2L689 719.8L679.2 738.4L669.8 756L661 772.7L652.6 788.7L644.7 804L637.1 818.6L629.9 832.6L622.9 846L616.3 859L610 871.5"/>
<path d="M754.9 679.4L744 700.2L733.8 719.8L724.2 738.4L715.2 756L706.6 772.7L698.5 788.7L690.8 804L683.5 818.6L676.5 832.6L669.8 846L663.4 859L657.3 871.5"/>
</g>
<polyline points="260.7,822.1 211.3,760 160,696.8 84.5,604.9 60,575" fill="none" stroke="#00205b" stroke-width="0.75"/>
<rect x="232" y="813.2" width="41.8" height="3.8" fill="#ffa500"/>
<polyline points="247.7,822.1 257.9,819.3 277.2,816.9 304.6,814.5 332,811.8 340.3,810.4 345.7,808.6 346.4,807 344.4,802.9 342.7,798.1 343.2,793 345,788 347.4,782.7 350.5,777 353.7,770.8 353.4,767 351.6,763.9 343,755.5 331,747.7 312.3,740 296.8,733.1 266.8,720.3 245.5,707.4 228.4,694.6 214.5,680.1 206.4,664.7 203.8,649.7 200.6,628.4 180.3,585.2 190.2,560 212.6,530.9 231.5,500 226.5,464.7 219.1,441.2 206.2,403.8 198.1,381.4 193,360 187.4,332 222.3,280.7 218.6,228.4 226.5,201.9 236.8,173.7 242.7,168.5 347,65.1 349,63.1" fill="none" stroke="#008000" stroke-width="2.1" stroke-linejoin="round"/>
<polyline points="260.7,822.1 264.5,820.8 269,819.8 280,818.6 291,817.7 340,815.6 379.8,813.9 440,811.3 491.7,808.9 496,805.6 499.2,802.4 501.6,798 502.4,793.8 501.6,789.5 499.2,785.3 494.5,779.8 489.6,774.6 484,769.5 479.3,765 477.6,757 473.5,731.9 460.7,679.5 455.4,659.2 449.6,648 445.8,640 436.8,622.4 415.4,588.2 396.2,561.5 379.1,540.1 348.1,499.5 340,486.1 332,470.7 328,464.7 317.4,441.2 311.6,424.1 305,381.4 306.7,360 309.9,332 336.6,280.7 391.7,226.9 435.2,174 459.8,119.9 504,64.6" fill="none" stroke="#ff0000" stroke-width="2.1" stroke-linejoin="round"/>
</g>
<g stroke="#00205b" stroke-width="1" fill="none" shape-rendering="crispEdges">
<path d="M84.5 64V872"/>
<path d="M84 871.5H625"/>
<path d="M79.2 64.5H84.5"/>
<path d="M79.2 302.5H84.5"/>
<path d="M79.2 441.5H84.5"/>
<path d="M79.2 540.5H84.5"/>
<path d="M79.2 617.5H84.5"/>
<path d="M79.2 679.5H84.5"/>
<path d="M79.2 732.5H84.5"/>
<path d="M79.2 778.5H84.5"/>
<path d="M79.2 819.5H84.5"/>
<path d="M79.2 855.5H84.5"/>
<path d="M133.5 871.5V876.8"/>
<path d="M232.5 871.5V876.8"/>
<path d="M330.5 871.5V876.8"/>
<path d="M428.5 871.5V876.8"/>
<path d="M526.5 871.5V876.8"/>
<path d="M624.5 871.5V876.8"/>
</g>
<text transform="translate(47.1 69.7) scale(1.05 1)" x="0.03 8.53 16.94" y="0" font-size="14.72">100</text>
<text transform="translate(47.1 307.7) scale(1.05 1)" x="-0.06 8.53 16.94" y="0" font-size="14.72">200</text>
<text transform="translate(47.1 446.7) scale(1.05 1)" x="0.13 8.53 16.94" y="0" font-size="14.72">300</text>
<text transform="translate(47.1 545.7) scale(1.05 1)" x="0.11 8.53 16.94" y="0" font-size="14.72">400</text>
<text transform="translate(47.1 622.7) scale(1.05 1)" x="0.06 8.53 16.94" y="0" font-size="14.72">500</text>
<text transform="translate(47.1 684.7) scale(1.05 1)" x="0.11 8.53 16.94" y="0" font-size="14.72">600</text>
<text transform="translate(47.1 737.7) scale(1.05 1)" x="0.08 8.53 16.94" y="0" font-size="14.72">700</text>
<text transform="translate(47.1 783.7) scale(1.05 1)" x="0.11 8.53 16.94" y="0" font-size="14.72">800</text>
<text transform="translate(47.1 824.7) scale(1.05 1)" x="0.07 8.53 16.94" y="0" font-size="14.72">900</text>
<text transform="translate(38.3 860.7) scale(1.05 1)" x="0.03 8.53 16.94 25.36" y="0" font-size="14.72">1000</text>
<text transform="translate(118.8 891.9) scale(1.05 1)" x="1.24 11.02 19.61" y="0" font-size="14.72">−20</text>
<text transform="translate(217 891.9) scale(1.05 1)" x="1.24 11.11 19.61" y="0" font-size="14.72">−10</text>
<text transform="translate(325.4 891.9) scale(1.05 1)" x="0.11" y="0" font-size="14.72">0</text>
<text transform="translate(419.2 891.9) scale(1.05 1)" x="0.03 8.53" y="0" font-size="14.72">10</text>
<text transform="translate(517.3 891.9) scale(1.05 1)" x="-0.06 8.53" y="0" font-size="14.72">20</text>
<text transform="translate(615.5 891.9) scale(1.05 1)" x="0.13 8.53" y="0" font-size="14.72">30</text>
<text transform="translate(293.8 911.6) scale(1.05 1)" x="-0.45 8.08 16.56 29.28 37.5 46.14 50.52 59.69 64.44 73.25 78.19 86.38 90.29 95.27 100.33 111.05" y="0" font-size="14.72">Temperature (°C)</text>
<text transform="translate(29.8 542.2) rotate(-90) scale(1.05 1)" x="-0.09 3.76 10.75 19.06 26.72 35.89 41.03 44.29 51.83 55.63 65.93 74.27 77.77 86.24 95.03 99.76 103.66 109.17 116.74 124.87 134.04" y="0" font-size="14.72">Isobaric Height (hPa)</text>
<text transform="translate(-0.7 20.9) scale(1.05 1)" x="-0.94 15.54 31.45 46.62 52.92 68.08 74.14 92.54 99.7 108.53 122.31 129.08 146.44 153.58 162.79 177.5 193.05 202.86 211.13 218.95 225.26 241.14 259.72 267.98 274.69 295.91 310.62 325.68 340.68 347.04 353.56 371.17 386.36 401.33 408.68 424.14 438.98 454.35 469.27 478.03 493.01 508.16 516.92 532.22 547.27 554.93 570.08 585.13 591.74 609.21 623.17 641.05 649.32 656.04 679.38 695.54 710.67 717.74 736.39 751.66 773.23 789.19 795.66 810.63 818.29 833.13" y="0" font-size="26.5">Rapid City Airport, SD; Model Run 2025-12-14 00 UTC; WRF Domain 02</text>
<text transform="translate(135.1 55.8) scale(1.05 1)" x="-0.1 12.79 25.15 37.96 50.4 57.7 70.18 82.8 90.1 102.85 115.39 121.66 134.44 146.95 152.46 167.01 178.64 193.75 200.06 205.91 213.92 226.81 239.17 251.98 264.42 271.72 284.2 296.82 304.12 316.87 329.41 335.8 348.42 360.97 366.56 383.35 396.22 409.78" y="0" font-size="22.08">2025-12-14 13 UTC  (2025-12-14 06 MST)</text>
<text transform="translate(249.9 834.9) scale(1.05 1)" x="-0.64 8.47 16.91 25.1 29.51 40.71 49.29" y="0" font-size="14.72">Sun-MST</text>
<g fill="#00205b" stroke="#00205b" stroke-width="1.8" stroke-linejoin="round">
<polygon points="624.5,67 605.5,38.8 614.4,27.7 605.5,38.8 607.9,42.3 616.8,31.2 607.9,42.3 610.2,45.8 619.1,34.7 610.2,45.8 612.6,49.4 621.5,38.2 612.6,49.4 615,52.9 619.4,47.3 615,52.9"/>
<polygon points="624.5,121 604.8,93.2 618.4,88.8 609.8,100.2"/>
<polygon points="624.5,174.7 605.8,146.3 619.5,142.4 610.5,153.4 612.8,156.9 621.8,145.9 612.8,156.9"/>
<polygon points="624.5,227.5 602.4,201.6 615.5,196 607.9,208.1 610.7,211.3 618.3,199.3 610.7,211.3"/>
<polygon points="624.5,280.5 599,258 611.2,250.6 605.4,263.6 608.5,266.4 614.4,253.4 608.5,266.4"/>
<polygon points="624.5,333.1 596.6,313.6 607.9,304.9 603.6,318.5 607.1,320.9 609.2,314.1 607.1,320.9"/>
<polygon points="624.5,382.3 596.3,363.2 607.5,354.3 603.4,368 606.9,370.4 608.9,363.5 606.9,370.4"/>
<polygon points="624.5,426.2 596.1,407.5 607.1,398.5 603.2,412.2 606.7,414.5 608.7,407.7 606.7,414.5"/>
<polygon points="624.5,465.4 595.7,447.3 606.6,438 602.9,451.8 606.5,454.1 610.2,440.3 606.5,454.1"/>
<polygon points="624.5,500.2 595.7,482.1 606.6,472.8 602.9,486.6 606.5,488.9 610.2,475.1 606.5,488.9"/>
<polygon points="624.5,531.7 595.6,513.7 606.5,504.4 602.9,518.2 606.5,520.4 610.1,506.6 606.5,520.4 610.1,522.7 611.9,515.8 610.1,522.7"/>
<polygon points="624.5,559.8 596.2,540.9 607.3,532 603.3,545.6 606.8,548 610.8,534.3 606.8,548"/>
<polygon points="624.5,585 596.5,565.7 607.7,556.9 603.5,570.5 607,573 611.2,559.3 607,573"/>
<polygon points="624.5,608.4 597.8,587.3 609.6,579.3 604.5,592.6 607.8,595.2 610.4,588.6 607.8,595.2"/>
<polygon points="624.5,647.8 599.9,624.3 612.3,617.4 606,630.2"/>
<polygon points="624.5,680.6 601.2,655.8 608.2,643.4 601.2,655.8 604.1,658.9 611.1,646.5 604.1,658.9 607,662 614,649.6 607,662 609.9,665.1 616.9,652.7 609.9,665.1 612.8,668.2 616.3,662 612.8,668.2"/>
<polygon points="624.5,707.8 601.6,682.7 608.7,670.4 601.6,682.7 604.4,685.8 611.6,673.5 604.4,685.8 607.3,689 614.5,676.6 607.3,689 610.2,692.1 617.3,679.8 610.2,692.1"/>
<polygon points="624.5,730.3 601,705.7 607.9,693.2 601,705.7 603.9,708.8 610.8,696.3 603.9,708.8 606.9,711.8 613.8,699.4 606.9,711.8"/>
<polygon points="624.5,749 598.5,727 604.1,713.9 598.5,727 601.8,729.7 607.4,716.6 601.8,729.7 605,732.5 607.8,725.9 605,732.5"/>
<polygon points="624.5,764.7 594.6,748.4 597.4,734.4 594.6,748.4 598.4,750.4 601.1,736.5 598.4,750.4"/>
<polygon points="624.5,778 593.1,764.9 594.4,750.7 593.1,764.9 597,766.5 598.4,752.3 597,766.5"/>
<polygon points="624.5,788.7 592.7,776.5 593.6,762.3 592.7,776.5 596.7,778 597.2,770.9 596.7,778"/>
<polygon points="624.5,797.8 591.4,789.9 590.4,775.7 591.4,789.9 595.5,790.9 595,783.8 595.5,790.9"/>
<polygon points="624.5,805.8 591,799.9 589.2,785.7 591,799.9"/>
<polygon points="624.5,811.3 608,841.1 594,838.2 608,841.1"/>
<polygon points="624.5,817.5 624.5,851.5 610.9,855.8 624.5,851.5 624.5,847.3 617.7,849.4 624.5,847.3"/>
<polygon points="624.5,821.3 648.3,845.6 641.6,858.2 648.3,845.6"/>
</g>
<circle cx="279.3" cy="871.3" r="22.2" fill="#fff" stroke="#b4b4b4" stroke-width="0.8"/>
<path d="M279.3 850.3V885.8" stroke="#00205b" stroke-width="1.4" fill="none"/>
<g clip-path="url(#hx)">
<g fill="none" stroke="#808080" stroke-width="1.3" stroke-dasharray="5.1 2.2">
<circle cx="804.3" cy="176.9" r="23.7"/>
<circle cx="804.3" cy="176.9" r="47.4"/>
<circle cx="804.3" cy="176.9" r="71.1"/>
<circle cx="804.3" cy="176.9" r="94.8"/>
<circle cx="804.3" cy="176.9" r="118.5"/>
</g>
<g fill="none" stroke="#808080" stroke-width="2" stroke-dasharray="7.7 3.3">
<path d="M710.5 177H899.5"/>
<path d="M804.05 271.5V82.5"/>
</g>
<rect x="710.5" y="268.9" width="68.1" height="4" fill="#00205b"/>
<path d="M796.9 168.3L797.9 163" stroke="#000080" stroke-width="4" stroke-linecap="round" fill="none"/>
<path d="M797.9 163L800.8 158.7" stroke="#000080" stroke-width="4" stroke-linecap="round" fill="none"/>
<path d="M800.8 158.7L804.4 156" stroke="#000080" stroke-width="4" stroke-linecap="round" fill="none"/>
<path d="M804.4 156L807.2 158.7" stroke="#000080" stroke-width="4" stroke-linecap="round" fill="none"/>
<path d="M807.2 158.7L808.6 168.3" stroke="#000080" stroke-width="4" stroke-linecap="round" fill="none"/>
<path d="M808.6 168.3L812 173.1" stroke="#000084" stroke-width="4" stroke-linecap="round" fill="none"/>
<path d="M812 173.1L816.9 179" stroke="#00008c" stroke-width="4" stroke-linecap="round" fill="none"/>
<path d="M816.9 179L821.1 180.4" stroke="#0000b0" stroke-width="4" stroke-linecap="round" fill="none"/>
<path d="M821.1 180.4L825.9 186.5" stroke="#0000e8" stroke-width="4" stroke-linecap="round" fill="none"/>
<path d="M825.9 186.5L828.1 191.3" stroke="#0000ff" stroke-width="4" stroke-linecap="round" fill="none"/>
<path d="M828.1 191.3L828.3 197.7" stroke="#0020ff" stroke-width="4" stroke-linecap="round" fill="none"/>
<path d="M828.3 197.7L831.3 204.1" stroke="#0050ff" stroke-width="4" stroke-linecap="round" fill="none"/>
<path d="M831.3 204.1L835.6 212.1" stroke="#0090ff" stroke-width="4" stroke-linecap="round" fill="none"/>
<path d="M835.6 212.1L840.9 215.9" stroke="#00d0ff" stroke-width="4" stroke-linecap="round" fill="none"/>
<path d="M840.9 215.9L846.2 217.8" stroke="#30ffc8" stroke-width="4" stroke-linecap="round" fill="none"/>
<path d="M846.2 217.8L852.6 217.5" stroke="#66ff90" stroke-width="4" stroke-linecap="round" fill="none"/>
<path d="M852.6 217.5L859.1 217.1" stroke="#90ff66" stroke-width="4" stroke-linecap="round" fill="none"/>
<path d="M859.1 217.1L865.5 219.3" stroke="#c8ff30" stroke-width="4" stroke-linecap="round" fill="none"/>
<path d="M865.5 219.3L868.7 219.1" stroke="#f0f000" stroke-width="4" stroke-linecap="round" fill="none"/>
<path d="M868.7 219.1L870.3 217.6" stroke="#ffc800" stroke-width="4" stroke-linecap="round" fill="none"/>
<path d="M870.3 217.6L869.4 216.1" stroke="#ff9800" stroke-width="3.3" stroke-linecap="round" fill="none"/>
<path d="M869.4 216.1L866.5 215" stroke="#ff6a00" stroke-width="3.3" stroke-linecap="round" fill="none"/>
<path d="M866.5 215L864 214.4" stroke="#ff3000" stroke-width="3.3" stroke-linecap="round" fill="none"/>
<path d="M864 214.4L858.5 213.7" stroke="#e00000" stroke-width="3.3" stroke-linecap="round" fill="none"/>
</g>
<g stroke="#00205b" stroke-width="1" fill="none" shape-rendering="crispEdges">
<path d="M710.5 82V272"/>
<path d="M710 271.5H900"/>
<path d="M705.2 271.5H710.5"/>
<path d="M710.5 271.5V276.8"/>
<path d="M705.2 224.5H710.5"/>
<path d="M757.5 271.5V276.8"/>
<path d="M705.2 177.5H710.5"/>
<path d="M804.5 271.5V276.8"/>
<path d="M705.2 130.5H710.5"/>
<path d="M852.5 271.5V276.8"/>
<path d="M705.2 82.5H710.5"/>
<path d="M899.5 271.5V276.8"/>
</g>
<text transform="translate(671.6 276.7) scale(1.05 1)" x="1.24 11.2 19.61" y="0" font-size="14.72">−40</text>
<text transform="translate(696.1 291.5) scale(1.05 1)" x="1.24 11.2 19.61" y="0" font-size="14.72">−40</text>
<text transform="translate(671.6 229.7) scale(1.05 1)" x="1.24 11.02 19.61" y="0" font-size="14.72">−20</text>
<text transform="translate(743.1 291.5) scale(1.05 1)" x="1.24 11.02 19.61" y="0" font-size="14.72">−20</text>
<text transform="translate(692.1 182.7) scale(1.05 1)" x="0.11" y="0" font-size="14.72">0</text>
<text transform="translate(800.4 291.5) scale(1.05 1)" x="0.11" y="0" font-size="14.72">0</text>
<text transform="translate(683.2 135.7) scale(1.05 1)" x="-0.06 8.53" y="0" font-size="14.72">20</text>
<text transform="translate(844 291.5) scale(1.05 1)" x="-0.06 8.53" y="0" font-size="14.72">20</text>
<text transform="translate(683.2 87.7) scale(1.05 1)" x="0.11 8.53" y="0" font-size="14.72">40</text>
<text transform="translate(891 291.5) scale(1.05 1)" x="0.11 8.53" y="0" font-size="14.72">40</text>
<text transform="translate(772.5 306.4) scale(1.05 1)" x="0.07 8.44 12.34 18.09 30.69 34.7" y="0" font-size="14.72">u (m s</text>
<text transform="translate(816 301.6) scale(1.05 1)" x="0.87 7.78" y="0" font-size="10.31">−1</text>
<text transform="translate(831.2 306.4) scale(1.05 1)" x="0.5" y="0" font-size="14.72">)</text>
<text transform="translate(667.8 208.8) rotate(-90) scale(1.05 1)" x="0.23 7.89 11.79 17.54 30.14 34.14" y="0" font-size="14.72">v (m s</text>
<text transform="translate(662.7 165.1) rotate(-90) scale(1.05 1)" x="0.87 7.78" y="0" font-size="10.31">−1</text>
<text transform="translate(667.8 151.3) rotate(-90) scale(1.05 1)" x="0.5" y="0" font-size="14.72">)</text>
<rect x="669.5" y="312.5" width="270" height="13" fill="url(#jet)" stroke="#00205b" stroke-width="1"/>
<g stroke="#00205b" stroke-width="1" fill="none" shape-rendering="crispEdges">
<path d="M669.5 325.5V330.5"/>
<path d="M723.5 325.5V330.5"/>
<path d="M777.5 325.5V330.5"/>
<path d="M831.5 325.5V330.5"/>
<path d="M885.5 325.5V330.5"/>
<path d="M939.5 325.5V330.5"/>
</g>
<text transform="translate(665.6 345.8) scale(1.05 1)" x="0.11" y="0" font-size="14.72">0</text>
<text transform="translate(719.6 345.8) scale(1.05 1)" x="-0.06" y="0" font-size="14.72">2</text>
<text transform="translate(773.6 345.8) scale(1.05 1)" x="0.11" y="0" font-size="14.72">4</text>
<text transform="translate(827.6 345.8) scale(1.05 1)" x="0.11" y="0" font-size="14.72">6</text>
<text transform="translate(881.6 345.8) scale(1.05 1)" x="0.11" y="0" font-size="14.72">8</text>
<text transform="translate(931.2 345.8) scale(1.05 1)" x="0.03 8.53" y="0" font-size="14.72">10</text>
<text transform="translate(746.9 365.7) scale(1.05 1)" x="-0.35 9.95 18.29 21.79 30.26 39.05 43.78 47.68 53.31 61.1 73.69 77.45 86.3 96.98 105.01" y="0" font-size="14.72">Height (km AGL)</text>
</svg></body></html>
